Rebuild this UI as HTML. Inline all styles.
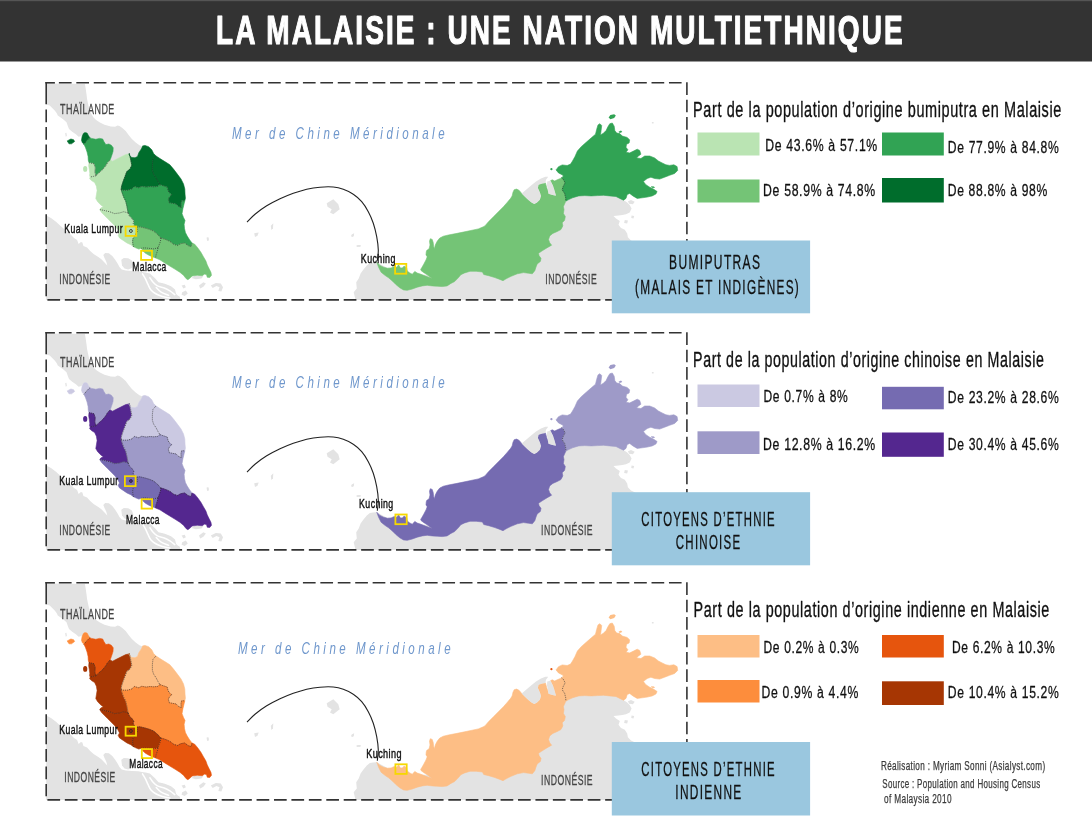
<!DOCTYPE html>
<html lang="fr"><head><meta charset="utf-8"><title>La Malaisie : une nation multiethnique</title>
<style>html,body{margin:0;padding:0;background:#fff}svg{display:block}text{font-family:"Liberation Sans",sans-serif;white-space:pre}</style></head><body>
<svg width="1092" height="838" viewBox="0 0 1092 838">
<rect width="1092" height="838" fill="#fff"/>
<rect x="0" y="0" width="1092" height="61.5" fill="#333"/>
<rect x="0" y="0" width="1092" height="1.2" fill="#555"/>
<text x="216.10" y="44.20" font-size="41.20" fill="#fff" font-weight="bold" font-style="normal" letter-spacing="3.00" textLength="688.60" lengthAdjust="spacingAndGlyphs" stroke="#fff" stroke-width="1.20" stroke-linejoin="round">LA MALAISIE : UNE NATION MULTIETHNIQUE</text>
<defs>
<clipPath id="cf0"><rect x="46.2" y="82.8" width="900.0" height="217.1"/></clipPath>
<clipPath id="cf1"><rect x="46.2" y="332.8" width="900.0" height="217.1"/></clipPath>
<clipPath id="cf2"><rect x="46.2" y="582.8" width="900.0" height="217.1"/></clipPath>
</defs>
<g id="panel1">
<g clip-path="url(#cf0)">
<path d="M46.2,83.5 L84.9,84.0 L85.6,88.0 L86.5,94.2 L87.1,99.2 L88.0,103.5 L89.0,107.9 L90.8,112.9 L93.3,117.2 L95.8,119.7 L99.5,122.2 L104.5,124.7 L110.8,126.6 L115.1,126.8 L117.6,125.6 L119.5,126.0 L122.0,127.8 L125.7,130.9 L128.8,135.3 L131.9,139.0 L135.7,142.5 L139.4,145.3 L142.5,146.5 L142.5,146.5 L141.3,149.0 L138.8,152.7 L137.5,156.5 L135.0,157.7 L131.9,157.5 L129.7,155.9 L128.8,154.0 L128.8,154.0 L125.7,154.6 L120.7,157.1 L115.7,159.6 L112.6,161.2 L110.1,160.0 L110.1,160.0 L111.4,156.5 L113.0,151.5 L113.2,147.8 L111.4,145.3 L108.9,144.0 L105.8,144.6 L103.9,141.5 L102.7,139.0 L99.5,138.4 L95.8,139.3 L91.5,138.4 L89.8,137.8 L89.8,137.8 L88.3,135.3 L87.1,133.1 L84.9,132.6 L83.4,133.4 L83.4,133.4 L81.5,135.9 L78.6,136.8 L75.9,134.3 L72.2,131.8 L69.0,129.1 L67.8,126.0 L66.5,122.2 L63.4,119.4 L60.3,117.2 L57.8,115.6 L56.6,112.9 L54.7,110.4 L52.2,107.9 L49.7,105.4 L46.2,104.4Z" fill="#e3e3e3"/>
<path d="M46.2,215.6 L51.0,218.1 L56.0,221.8 L60.9,226.2 L65.9,230.5 L70.3,234.3 L74.0,238.0 L77.1,240.1 L78.6,243.9 L80.9,242.1 L82.4,242.6 L83.4,246.1 L87.1,247.4 L90.2,251.1 L93.9,254.2 L98.3,257.1 L101.4,259.2 L104.5,262.6 L107.3,265.5 L106.3,261.7 L104.5,257.9 L103.3,255.1 L105.2,253.1 L108.9,253.2 L112.3,256.1 L115.2,259.8 L117.6,263.5 L119.5,267.0 L121.7,269.5 L125.7,270.6 L131.9,271.0 L138.2,271.3 L141.9,272.0 L145.6,272.6 L149.8,273.6 L154.8,277.9 L158.5,282.3 L164.8,283.8 L171.0,286.3 L175.0,289.5 L176.2,294.1 L179.7,297.5 L181.2,302.2 L45.2,302.2Z" fill="#e3e3e3"/>
<path d="M121.3,259.8 L123.8,257.9 L128.2,258.3 L131.9,260.4 L133.2,264.2 L131.9,267.9 L128.2,269.5 L124.5,268.5 L122.0,265.4Z" fill="#e3e3e3"/>
<path d="M154.8,284.8 L158.5,282.9 L164.8,284.2 L171.0,286.7 L174.7,289.8 L173.5,291.6 L168.5,289.8 L162.3,287.9 L157.3,287.3Z" fill="#e3e3e3"/>
<path d="M153.5,289.8 L158.5,289.2 L164.8,291.0 L171.0,293.5 L172.9,296.0 L168.5,296.6 L162.3,294.8 L156.0,292.9Z" fill="#e3e3e3"/>
<path d="M181.6,285.4 L184.7,284.8 L185.9,287.3 L183.4,288.5Z" fill="#e3e3e3"/>
<path d="M182.2,292.3 L185.9,290.4 L187.8,293.5 L184.7,296.0 L181.6,294.8Z" fill="#e3e3e3"/>
<path d="M199.0,285.4 L203.4,282.3 L205.9,283.5 L203.4,286.7 L200.2,288.5Z" fill="#e3e3e3"/>
<path d="M210.8,285.4 L215.8,282.9 L220.8,283.5 L223.0,287.3 L221.4,291.6 L218.3,291.0 L219.6,287.3 L216.4,286.0 L212.7,287.9Z" fill="#e3e3e3"/>
<path d="M191.5,277.9 L194.6,275.8 L199.6,275.5 L203.4,276.3 L201.5,278.6 L195.9,279.2Z" fill="#e3e3e3"/>
<path d="M206.8,237.7 L208.1,237.5 L208.6,240.0 L207.3,240.5Z" fill="#e3e3e3"/>
<path d="M176.0,296.6 L179.1,295.8 L180.3,298.2 L177.2,299.2Z" fill="#e3e3e3"/>
<path d="M65.2,133.1 L66.4,132.8 L66.9,135.9 L65.7,136.8Z" fill="#e3e3e3"/>
<path d="M355.6,300.4 L353.7,292.3 L356.8,288.5 L356.2,282.3 L358.7,278.6 L360.6,273.6 L363.1,269.9 L366.8,265.5 L369.9,263.0 L373.0,262.6 L376.8,262.3 L399.8,274.7 L437.2,274.7 L474.5,262.3 L507.4,245.8 L544.7,220.9 L557.2,208.5 L572.5,187.2 L622.3,187.2 L623.5,199.9 L627.2,202.4 L629.7,204.9 L631.6,208.6 L629.7,212.4 L626.0,214.2 L622.3,214.9 L618.5,215.5 L613.5,216.1 L616.0,218.6 L619.8,221.1 L618.5,224.8 L621.0,227.9 L624.8,229.8 L627.2,233.5 L627.9,237.3 L631.0,240.4 L639.7,244.8 L639.7,300.5Z" fill="#e3e3e3"/>
<path d="M627.9,201.2 L631.0,199.9 L634.7,201.8 L632.9,204.3 L629.1,203.7Z" fill="#e3e3e3"/>
<path d="M631.6,215.5 L634.1,216.1 L633.5,218.6 L631.2,218.0Z" fill="#e3e3e3"/>
<path d="M624.8,219.9 L627.9,220.5 L627.2,223.6 L624.1,223.0Z" fill="#e3e3e3"/>
<path d="M651.9,121.9 L653.6,121.9 L653.6,123.4 L651.9,123.4Z" fill="#e3e3e3"/>
<path d="M326.7,203.3 L333.3,199.2 L338.3,204.2 L339.7,209.2 L333.3,214.2 L330.0,212.5 L331.7,209.2 L327.5,206.7Z" fill="#e3e3e3"/>
<path d="M270.8,225.8 L273.3,223.3 L273.0,228.3 L271.3,230.0Z" fill="#e3e3e3"/>
<path d="M254.2,233.3 L258.7,232.5 L257.5,235.8 L255.0,237.0Z" fill="#e3e3e3"/>
<path d="M206.7,237.5 L208.7,237.5 L208.7,240.8 L207.0,240.8Z" fill="#e3e3e3"/>
<path d="M351.3,235.0 L354.2,233.3 L353.7,236.3 L351.7,237.0Z" fill="#e3e3e3"/>
<path d="M356.7,245.3 L360.3,245.3 L360.3,246.7 L356.7,246.7Z" fill="#e3e3e3"/>
<path d="M351.5,234.9 L353.7,233.4 L353.5,236.1 L351.9,236.9Z" fill="#e3e3e3"/>
<path d="M356.8,245.5 L360.6,245.1 L360.6,246.6 L356.8,246.7Z" fill="#e3e3e3"/>
<path d="M142.5,273.8 C143.0,274.7 144.6,277.3 145.6,279.1 C146.5,280.9 147.1,282.8 148.1,284.7 C149.0,286.5 149.8,288.7 151.2,290.3 C152.5,291.8 154.3,293.0 156.2,294.0 C158.0,295.0 160.1,295.8 162.4,296.5 C164.7,297.2 168.6,297.7 169.9,298.0" fill="none" stroke="#fff" stroke-width="1.5" stroke-linecap="round"/>
<path d="M149.9,277.8 C150.5,278.5 151.8,280.8 153.1,282.2 C154.3,283.5 155.6,285.0 157.4,285.9 C159.2,286.8 161.6,287.0 163.6,287.8 C165.7,288.6 168.0,289.8 169.9,290.9 C171.7,292.0 174.0,294.0 174.8,294.6" fill="none" stroke="#fff" stroke-width="1.5" stroke-linecap="round"/>
<path d="M156.2,287.5 C157.0,288.3 159.1,290.9 161.1,292.1 C163.2,293.4 167.4,294.7 168.6,295.3" fill="none" stroke="#fff" stroke-width="1.5" stroke-linecap="round"/>
<path d="M83.4,133.4 L82.1,136.5 L81.5,140.3 L82.4,142.8 L84.0,144.3 L84.0,144.3 L85.2,142.8 L87.1,140.5 L89.8,137.8 L89.8,137.8 L88.3,135.3 L87.1,133.1 L84.9,132.6 L83.4,133.4Z" fill="#006d2c" stroke="#006d2c" stroke-width="0.6" stroke-linejoin="round"/>
<path d="M89.8,137.8 L87.1,140.5 L85.2,142.8 L84.0,144.3 L84.0,144.3 L85.6,147.8 L87.1,152.1 L88.1,156.5 L88.3,160.2 L89.0,162.7 L89.0,162.7 L93.9,163.7 L95.2,167.7 L94.8,172.0 L95.8,175.8 L95.8,175.8 L98.9,172.9 L102.7,169.6 L105.8,165.8 L107.6,162.7 L110.1,160.0 L110.1,160.0 L111.4,156.5 L113.0,151.5 L113.2,147.8 L111.4,145.3 L108.9,144.0 L105.8,144.6 L103.9,141.5 L102.7,139.0 L99.5,138.4 L95.8,139.3 L91.5,138.4 L89.8,137.8Z" fill="#31a354" stroke="#31a354" stroke-width="0.6" stroke-linejoin="round"/>
<path d="M89.0,162.7 L93.9,163.7 L95.2,167.7 L94.8,172.0 L95.8,175.8 L95.8,175.8 L93.3,176.4 L90.2,177.0 L90.2,177.0 L89.6,175.8 L89.8,173.3 L89.3,169.6 L88.7,165.8 L89.0,162.7Z" fill="#bae4b3" stroke="#bae4b3" stroke-width="0.6" stroke-linejoin="round"/>
<path d="M110.1,160.0 L107.6,162.7 L105.8,165.8 L102.7,169.6 L98.9,172.9 L95.8,175.8 L95.8,175.8 L93.3,176.4 L90.2,177.0 L90.2,177.0 L89.6,178.7 L91.5,180.6 L94.6,182.5 L96.4,186.2 L97.1,190.5 L96.4,194.9 L95.8,198.6 L97.7,201.8 L100.8,204.9 L103.3,206.7 L100.8,208.0 L99.8,209.6 L99.8,209.6 L104.5,210.5 L109.5,211.7 L114.5,213.6 L119.5,213.0 L123.8,211.7 L128.2,213.0 L128.2,213.0 L127.6,209.9 L126.9,206.1 L125.7,201.1 L123.8,197.4 L122.0,192.4 L121.2,189.6 L121.2,189.6 L121.5,186.5 L123.1,181.5 L125.0,176.5 L126.8,171.6 L130.0,169.1 L131.8,165.3 L130.6,159.1 L129.3,153.5 L128.8,154.0 L125.7,154.6 L120.7,157.1 L115.7,159.6 L112.6,161.2 L110.1,160.0Z" fill="#bae4b3" stroke="#bae4b3" stroke-width="0.6" stroke-linejoin="round"/>
<path d="M142.5,146.5 L141.3,149.0 L138.8,152.7 L137.5,156.5 L135.0,157.7 L131.9,157.5 L129.7,155.9 L128.8,154.0 L129.3,153.5 L130.6,159.1 L131.8,165.3 L130.0,169.1 L126.8,171.6 L125.0,176.5 L123.1,181.5 L121.5,186.5 L121.2,189.6 L121.2,189.6 L123.1,190.2 L127.5,190.2 L131.8,189.0 L134.3,186.5 L138.7,187.8 L141.8,186.3 L146.2,187.1 L149.9,186.5 L153.6,186.8 L157.4,186.5 L159.9,184.6 L159.9,184.6 L158.0,181.5 L156.1,177.8 L153.6,174.1 L152.4,170.3 L152.4,164.1 L153.0,159.1 L156.1,156.0 L156.1,156.0 L153.6,153.5 L151.8,149.8 L148.6,146.7 L144.9,145.4 L142.4,146.0Z" fill="#006d2c" stroke="#006d2c" stroke-width="0.6" stroke-linejoin="round"/>
<path d="M156.1,156.0 L153.0,159.1 L152.4,164.1 L152.4,170.3 L153.6,174.1 L156.1,177.8 L158.0,181.5 L159.9,184.6 L159.9,184.6 L163.6,185.9 L167.3,187.1 L167.9,190.2 L169.2,192.7 L171.7,194.6 L169.8,196.5 L168.3,199.0 L169.2,202.7 L172.3,203.3 L176.0,203.9 L178.5,206.4 L181.3,207.7 L181.0,203.9 L181.6,200.8 L184.8,200.8 L184.8,200.8 L185.4,198.3 L185.0,194.0 L184.8,189.0 L183.5,184.0 L181.0,179.0 L177.3,174.1 L173.5,169.1 L169.8,164.7 L164.8,161.6 L159.9,158.5 L156.1,156.0Z" fill="#006d2c" stroke="#006d2c" stroke-width="0.6" stroke-linejoin="round"/>
<path d="M121.2,189.6 L123.1,190.2 L127.5,190.2 L131.8,189.0 L134.3,186.5 L138.7,187.8 L141.8,186.3 L146.2,187.1 L149.9,186.5 L153.6,186.8 L157.4,186.5 L159.9,184.6 L159.9,184.6 L163.6,185.9 L167.3,187.1 L167.9,190.2 L169.2,192.7 L171.7,194.6 L169.8,196.5 L168.3,199.0 L169.2,202.7 L172.3,203.3 L176.0,203.9 L178.5,206.4 L181.3,207.7 L181.0,203.9 L181.6,200.8 L184.8,200.8 L184.8,200.9 L184.1,203.7 L182.9,208.7 L182.0,213.7 L183.5,217.4 L185.0,220.5 L184.1,224.3 L184.5,228.6 L185.4,232.4 L187.2,236.1 L189.7,239.9 L192.0,243.0 L192.0,243.0 L191.0,246.7 L187.9,245.5 L184.8,243.0 L181.0,243.6 L177.3,245.5 L173.5,244.2 L170.4,241.7 L166.7,239.9 L163.0,238.6 L160.8,238.0 L160.8,238.0 L157.4,234.2 L153.6,231.1 L149.3,229.3 L144.9,228.0 L139.9,226.8 L136.8,227.1 L136.8,227.3 L134.7,226.3 L133.2,223.5 L133.8,221.1 L131.9,218.6 L129.4,216.1 L128.2,213.0 L128.2,213.0 L127.6,209.9 L126.9,206.1 L125.7,201.1 L123.8,197.4 L122.0,192.4 L121.2,189.6Z" fill="#31a354" stroke="#31a354" stroke-width="0.6" stroke-linejoin="round"/>
<path d="M128.2,213.0 L123.8,211.7 L119.5,213.0 L114.5,213.6 L109.5,211.7 L104.5,210.5 L99.8,209.6 L99.8,209.6 L101.4,212.3 L104.5,215.5 L107.6,218.6 L110.8,221.7 L114.5,225.4 L117.6,229.2 L119.5,232.9 L118.2,235.4 L119.5,237.9 L123.2,240.4 L126.9,242.9 L130.7,244.7 L133.5,246.7 L133.5,246.7 L132.7,243.3 L132.7,239.2 L135.2,235.0 L137.7,230.8 L136.8,227.3 L136.8,227.3 L134.7,226.3 L133.2,223.5 L133.8,221.1 L131.9,218.6 L129.4,216.1 L128.2,213.0Z" fill="#bae4b3" stroke="#bae4b3" stroke-width="0.6" stroke-linejoin="round"/>
<path d="M136.8,227.3 L137.7,230.8 L135.2,235.0 L132.7,239.2 L132.7,243.3 L133.5,246.7 L133.6,246.7 L135.7,247.8 L138.8,249.1 L141.4,248.3 L141.4,248.3 L144.3,247.9 L148.6,248.3 L153.6,248.8 L158.0,247.9 L158.0,247.9 L159.2,244.8 L160.5,241.1 L160.8,238.0 L160.8,238.0 L157.4,234.2 L153.6,231.1 L149.3,229.3 L144.9,228.0 L139.9,226.8 L136.8,227.1Z" fill="#74c476" stroke="#74c476" stroke-width="0.6" stroke-linejoin="round"/>
<path d="M158.0,247.9 L153.6,248.8 L148.6,248.3 L144.3,247.9 L141.4,248.3 L141.4,248.3 L143.0,251.1 L145.5,253.3 L149.3,255.4 L153.0,257.0 L155.5,257.9 L155.5,257.9 L156.1,254.8 L157.4,251.1 L158.0,247.9Z" fill="#74c476" stroke="#74c476" stroke-width="0.6" stroke-linejoin="round"/>
<path d="M160.8,238.0 L163.0,238.6 L166.7,239.9 L170.4,241.7 L173.5,244.2 L177.3,245.5 L181.0,243.6 L184.8,243.0 L187.9,245.5 L191.0,246.7 L192.0,243.0 L192.0,243.0 L194.7,244.2 L197.8,247.9 L200.9,252.3 L203.4,256.7 L205.9,261.0 L207.2,264.8 L209.0,268.5 L210.9,272.2 L211.5,275.3 L209.7,277.5 L207.2,277.2 L206.6,274.7 L204.7,274.1 L202.2,275.7 L197.2,275.3 L192.2,276.0 L190.4,277.8 L187.9,279.7 L186.0,278.5 L183.5,275.3 L179.8,272.2 L174.8,269.1 L169.8,266.0 L164.8,262.9 L159.9,259.8 L155.5,257.9 L155.5,257.9 L156.1,254.8 L157.4,251.1 L158.0,247.9 L158.0,247.9 L159.2,244.8 L160.5,241.1 L160.8,238.0Z" fill="#74c476" stroke="#74c476" stroke-width="0.6" stroke-linejoin="round"/>
<path d="M67.2,140.9 L70.9,139.0 L73.6,139.7 L74.6,141.5 L71.5,143.8 L69.0,143.8Z" fill="#006d2c" stroke="#006d2c" stroke-width="0.6" stroke-linejoin="round"/>
<path d="M376.8,262.3 L378.0,263.5 L379.9,265.4 L383.6,267.2 L387.4,268.2 L391.1,267.9 L394.2,266.6 L396.7,267.2 L398.6,264.8 L400.4,267.9 L402.3,267.9 L404.2,266.0 L406.7,267.9 L407.3,271.1 L409.8,273.0 L412.3,274.2 L414.8,271.4 L417.2,273.0 L421.0,274.3 L426.0,276.3 L432.2,278.5 L427.2,274.8 L423.5,272.4 L421.0,270.5 L420.7,269.2 L421.6,268.0 L423.7,264.3 L426.0,259.9 L427.2,256.8 L426.0,254.9 L426.2,252.4 L426.6,250.6 L429.1,248.7 L430.0,245.0 L429.5,241.2 L430.3,238.7 L432.2,239.4 L433.2,242.5 L433.7,246.8 L434.4,248.7 L435.3,245.0 L437.2,241.2 L439.7,238.1 L443.4,236.2 L448.4,235.0 L455.9,233.6 L463.3,232.1 L470.8,230.5 L478.3,228.9 L483.3,226.8 L484.9,225.9 L488.7,221.5 L493.7,216.5 L498.6,211.6 L503.6,206.6 L507.4,202.2 L510.5,198.5 L512.1,196.0 L513.0,192.2 L514.2,189.7 L516.7,189.1 L519.2,190.4 L521.7,193.5 L521.7,193.5 L524.2,196.0 L527.3,199.1 L531.1,202.2 L534.2,204.1 L536.7,202.8 L539.8,199.7 L541.0,196.0 L539.8,192.2 L537.9,187.9 L538.5,184.8 L538.5,184.8 L542.3,183.5 L545.4,182.9 L545.4,182.9 L546.6,187.2 L547.9,191.0 L548.5,193.7 L551.6,194.7 L556.0,195.7 L556.0,195.7 L554.5,190.4 L552.9,185.4 L551.0,181.6 L550.4,180.8 L550.4,180.8 L552.2,179.8 L554.7,181.0 L557.2,179.8 L560.3,178.5 L561.6,177.9 L561.6,177.9 L563.7,179.8 L565.1,182.9 L563.2,186.6 L562.2,189.7 L564.7,193.5 L565.7,197.8 L565.9,200.9 L565.9,201.0 L563.4,206.6 L564.0,209.7 L563.4,213.4 L565.3,216.5 L564.6,220.3 L562.2,222.8 L562.8,225.9 L560.9,229.6 L557.2,231.5 L552.8,233.4 L549.7,235.9 L548.5,239.6 L549.7,242.7 L551.6,245.2 L547.2,247.7 L542.2,250.8 L538.5,253.3 L539.1,255.8 L541.0,258.3 L540.4,261.4 L537.2,263.9 L536.0,267.0 L534.8,270.7 L532.3,273.8 L528.5,273.2 L523.5,272.6 L517.3,273.8 L511.1,276.3 L506.1,278.8 L503.0,280.7 L499.9,279.4 L494.9,277.6 L488.7,275.7 L483.7,274.5 L482.5,272.0 L476.2,271.3 L470.0,271.3 L464.6,272.9 L460.8,274.7 L458.3,277.8 L454.6,281.6 L450.9,283.4 L447.1,285.9 L442.2,286.6 L437.2,286.2 L432.2,285.9 L427.2,285.3 L422.2,285.9 L417.2,287.2 L412.3,289.0 L407.3,290.3 L403.5,289.9 L399.8,287.8 L396.1,284.7 L392.3,280.9 L388.6,277.8 L384.9,275.3 L381.1,272.2 L378.6,267.2Z" fill="#74c476" stroke="#74c476" stroke-width="0.6" stroke-linejoin="round"/>
<path d="M556.0,169.9 L558.5,166.7 L562.2,164.9 L567.2,165.5 L570.6,164.1 L572.5,161.0 L574.9,156.7 L577.4,151.1 L581.2,146.7 L586.2,142.3 L591.1,138.0 L595.5,134.2 L596.7,129.3 L598.0,124.9 L599.9,123.7 L601.7,125.5 L601.1,130.5 L600.5,134.9 L603.0,133.6 L606.1,130.5 L607.9,126.8 L609.8,123.7 L612.3,123.0 L614.2,126.2 L614.8,130.5 L616.7,133.0 L619.8,133.6 L622.3,136.1 L627.2,137.4 L629.7,139.9 L629.1,143.0 L626.6,144.2 L626.0,147.3 L627.9,149.8 L626.0,152.3 L629.7,152.9 L633.5,151.1 L637.2,149.2 L639.7,150.4 L640.9,154.2 L638.5,156.0 L636.6,157.9 L640.9,158.5 L644.7,156.0 L649.7,156.0 L654.6,157.9 L658.4,161.0 L662.1,162.9 L665.9,164.8 L669.6,165.4 L673.9,164.8 L677.1,166.6 L677.7,170.4 L674.6,173.5 L669.6,175.3 L664.6,177.2 L659.6,179.1 L654.6,178.5 L650.9,177.2 L647.2,178.5 L643.4,181.6 L645.9,184.7 L649.7,187.2 L653.4,189.0 L657.1,191.5 L655.9,194.0 L652.2,195.9 L647.2,197.1 L642.2,197.8 L637.2,198.4 L632.9,195.9 L629.7,193.4 L627.2,194.6 L626.0,198.4 L623.5,200.2 L619.8,198.4 L616.0,196.5 L609.8,195.9 L603.6,195.3 L597.4,195.6 L591.1,195.9 L584.9,195.6 L578.7,195.9 L572.5,197.8 L568.7,199.6 L566.0,201.0 L565.9,200.9 L565.7,197.8 L564.7,193.5 L562.2,189.7 L563.2,186.6 L565.1,182.9 L563.7,179.8 L561.6,177.9 L563.4,176.0 L562.2,174.8 L558.5,172.9Z" fill="#31a354" stroke="#31a354" stroke-width="0.6" stroke-linejoin="round"/>
<path d="M521.7,193.5 L526.1,189.7 L531.1,185.4 L536.0,181.6 L541.0,178.5 L545.4,176.7 L548.2,176.7 L546.0,179.8 L545.4,182.9 L542.3,183.5 L538.5,184.8 L537.9,187.9 L539.8,192.2 L541.0,196.0 L539.8,199.7 L536.7,202.8 L534.2,204.1 L531.1,202.2 L527.3,199.1 L524.2,196.0Z" fill="#e3e3e3"/>
<path d="M547.2,181.6 L550.4,180.8 L552.9,185.4 L554.5,190.4 L556.0,195.7 L551.6,194.7 L548.5,193.7 L547.9,189.7 L547.0,185.4Z" fill="#e3e3e3"/>
<path d="M608.6,117.4 L610.4,114.9 L614.2,114.3 L615.8,115.6 L614.2,118.1 L610.4,119.3Z" fill="#31a354"/>
<path d="M618.5,131.8 L621.0,130.5 L622.3,132.1 L619.8,133.1Z" fill="#31a354"/>
<path d="M650.9,186.2 L654.0,186.4 L654.9,187.9 L651.9,187.7Z" fill="#31a354"/>
<ellipse cx="551.4" cy="169.2" rx="1.1" ry="1.1" fill="#31a354"/>
<ellipse cx="85.2" cy="168.9" rx="2.1" ry="2.9" fill="#bae4b3"/>
<path d="M89.8,137.8 L87.1,140.5 L85.2,142.8 L84.0,144.3 M89.0,162.7 L93.9,163.7 L95.2,167.7 L94.8,172.0 L95.8,175.8 M110.1,160.0 L107.6,162.7 L105.8,165.8 L102.7,169.6 L98.9,172.9 L95.8,175.8 M95.8,175.8 L93.3,176.4 L90.2,177.0 M129.3,153.5 L130.6,159.1 L131.8,165.3 L130.0,169.1 L126.8,171.6 L125.0,176.5 L123.1,181.5 L121.5,186.5 L121.2,189.6 M121.2,189.6 L123.1,190.2 L127.5,190.2 L131.8,189.0 L134.3,186.5 L138.7,187.8 L141.8,186.3 L146.2,187.1 L149.9,186.5 L153.6,186.8 L157.4,186.5 L159.9,184.6 M156.1,156.0 L153.0,159.1 L152.4,164.1 L152.4,170.3 L153.6,174.1 L156.1,177.8 L158.0,181.5 L159.9,184.6 M159.9,184.6 L163.6,185.9 L167.3,187.1 L167.9,190.2 L169.2,192.7 L171.7,194.6 L169.8,196.5 L168.3,199.0 L169.2,202.7 L172.3,203.3 L176.0,203.9 L178.5,206.4 L181.3,207.7 L181.0,203.9 L181.6,200.8 L184.8,200.8 M121.2,189.6 L122.0,192.4 L123.8,197.4 L125.7,201.1 L126.9,206.1 L127.6,209.9 L128.2,213.0 M128.2,213.0 L123.8,211.7 L119.5,213.0 L114.5,213.6 L109.5,211.7 L104.5,210.5 L99.8,209.6 M128.2,213.0 L129.4,216.1 L131.9,218.6 L133.8,221.1 L133.2,223.5 L134.7,226.3 L136.8,227.3 M136.8,227.3 L137.7,230.8 L135.2,235.0 L132.7,239.2 L132.7,243.3 L133.5,246.7 M136.8,227.1 L139.9,226.8 L144.9,228.0 L149.3,229.3 L153.6,231.1 L157.4,234.2 L160.8,238.0 M160.8,238.0 L163.0,238.6 L166.7,239.9 L170.4,241.7 L173.5,244.2 L177.3,245.5 L181.0,243.6 L184.8,243.0 L187.9,245.5 L191.0,246.7 L192.0,243.0 M160.8,238.0 L160.5,241.1 L159.2,244.8 L158.0,247.9 M158.0,247.9 L157.4,251.1 L156.1,254.8 L155.5,257.9 M158.0,247.9 L153.6,248.8 L148.6,248.3 L144.3,247.9 L141.4,248.3 M561.6,177.9 L563.7,179.8 L565.1,182.9 L563.2,186.6 L562.2,189.7 L564.7,193.5 L565.7,197.8 L565.9,200.9" fill="none" stroke="#222" stroke-opacity="0.85" stroke-width="0.75" stroke-dasharray="1.0 1.0"/>
<circle cx="130.9" cy="231.0" r="1.45" fill="#bae4b3" stroke="#2a2a2a" stroke-width="0.9"/>
</g>
<path d="M247.0,222.0 C248.3,220.7 251.7,216.9 255.0,214.2 C258.3,211.5 262.5,208.4 266.7,205.8 C270.8,203.3 275.6,200.9 280.0,198.8 C284.4,196.8 288.9,194.9 293.3,193.3 C297.8,191.8 302.2,190.4 306.7,189.3 C311.1,188.3 315.6,187.6 320.0,187.2 C324.4,186.8 329.4,186.7 333.3,187.0 C337.2,187.3 340.0,188.0 343.3,189.2 C346.7,190.4 350.3,192.1 353.3,194.2 C356.4,196.2 359.2,198.8 361.7,201.7 C364.2,204.6 366.4,208.1 368.3,211.7 C370.3,215.3 371.9,219.2 373.3,223.3 C374.7,227.5 375.8,232.2 376.7,236.7 C377.5,241.1 378.2,246.0 378.3,250.0 C378.4,254.0 377.5,258.9 377.3,260.7" fill="none" stroke="#222" stroke-width="1.1"/>
<rect x="125.6" y="226.5" width="10.7" height="9.4" fill="none" stroke="#f6d800" stroke-width="1.8"/>
<rect x="141.1" y="250.8" width="10.9" height="9.1" fill="none" stroke="#f6d800" stroke-width="1.8"/>
<rect x="395.1" y="263.9" width="11.2" height="9.8" fill="none" stroke="#f6d800" stroke-width="1.8"/>
<path d="M58.9,82.8 H681.6" stroke="#333" stroke-width="1.6" stroke-dasharray="12.7 4.73" fill="none"/>
<path d="M45.4,82.8 H54.9" stroke="#333" stroke-width="1.6" fill="none"/>
<path d="M47.4,299.9 H687.0" stroke="#333" stroke-width="1.6" stroke-dasharray="12.7 4.73" fill="none"/>
<path d="M46.2,109.6 V296.3" stroke="#333" stroke-width="1.6" stroke-dasharray="12.7 4.73" fill="none"/>
<path d="M46.2,82.0 V104.2" stroke="#333" stroke-width="1.6" fill="none"/>
<path d="M686.9,82.2 V299.9" stroke="#333" stroke-width="1.6" stroke-dasharray="12.7 4.73" fill="none"/>
</g>
<g id="panel2">
<g clip-path="url(#cf1)">
<path d="M46.2,333.5 L84.9,334.0 L85.6,338.0 L86.5,344.2 L87.1,349.2 L88.0,353.5 L89.0,357.9 L90.8,362.9 L93.3,367.2 L95.8,369.7 L99.5,372.2 L104.5,374.7 L110.8,376.6 L115.1,376.8 L117.6,375.6 L119.5,376.0 L122.0,377.8 L125.7,380.9 L128.8,385.3 L131.9,389.0 L135.7,392.5 L139.4,395.3 L142.5,396.5 L142.5,396.5 L141.3,399.0 L138.8,402.7 L137.5,406.5 L135.0,407.7 L131.9,407.5 L129.7,405.9 L128.8,404.0 L128.8,404.0 L125.7,404.6 L120.7,407.1 L115.7,409.6 L112.6,411.2 L110.1,410.0 L110.1,410.0 L111.4,406.5 L113.0,401.5 L113.2,397.8 L111.4,395.3 L108.9,394.0 L105.8,394.6 L103.9,391.5 L102.7,389.0 L99.5,388.4 L95.8,389.3 L91.5,388.4 L89.8,387.8 L89.8,387.8 L88.3,385.3 L87.1,383.1 L84.9,382.6 L83.4,383.4 L83.4,383.4 L81.5,385.9 L78.6,386.8 L75.9,384.3 L72.2,381.8 L69.0,379.1 L67.8,376.0 L66.5,372.2 L63.4,369.4 L60.3,367.2 L57.8,365.6 L56.6,362.9 L54.7,360.4 L52.2,357.9 L49.7,355.4 L46.2,354.4Z" fill="#e3e3e3"/>
<path d="M46.2,465.6 L51.0,468.1 L56.0,471.8 L60.9,476.2 L65.9,480.5 L70.3,484.3 L74.0,488.0 L77.1,490.1 L78.6,493.9 L80.9,492.1 L82.4,492.6 L83.4,496.1 L87.1,497.4 L90.2,501.1 L93.9,504.2 L98.3,507.1 L101.4,509.2 L104.5,512.6 L107.3,515.5 L106.3,511.7 L104.5,507.9 L103.3,505.1 L105.2,503.1 L108.9,503.2 L112.3,506.1 L115.2,509.8 L117.6,513.5 L119.5,517.0 L121.7,519.5 L125.7,520.6 L131.9,521.0 L138.2,521.3 L141.9,522.0 L145.6,522.6 L149.8,523.6 L154.8,527.9 L158.5,532.3 L164.8,533.8 L171.0,536.3 L175.0,539.5 L176.2,544.1 L179.7,547.5 L181.2,552.2 L45.2,552.2Z" fill="#e3e3e3"/>
<path d="M121.3,509.8 L123.8,507.9 L128.2,508.3 L131.9,510.4 L133.2,514.2 L131.9,517.9 L128.2,519.5 L124.5,518.5 L122.0,515.4Z" fill="#e3e3e3"/>
<path d="M154.8,534.8 L158.5,532.9 L164.8,534.2 L171.0,536.7 L174.7,539.8 L173.5,541.6 L168.5,539.8 L162.3,537.9 L157.3,537.3Z" fill="#e3e3e3"/>
<path d="M153.5,539.8 L158.5,539.2 L164.8,541.0 L171.0,543.5 L172.9,546.0 L168.5,546.6 L162.3,544.8 L156.0,542.9Z" fill="#e3e3e3"/>
<path d="M181.6,535.4 L184.7,534.8 L185.9,537.3 L183.4,538.5Z" fill="#e3e3e3"/>
<path d="M182.2,542.3 L185.9,540.4 L187.8,543.5 L184.7,546.0 L181.6,544.8Z" fill="#e3e3e3"/>
<path d="M199.0,535.4 L203.4,532.3 L205.9,533.5 L203.4,536.7 L200.2,538.5Z" fill="#e3e3e3"/>
<path d="M210.8,535.4 L215.8,532.9 L220.8,533.5 L223.0,537.3 L221.4,541.6 L218.3,541.0 L219.6,537.3 L216.4,536.0 L212.7,537.9Z" fill="#e3e3e3"/>
<path d="M191.5,527.9 L194.6,525.8 L199.6,525.5 L203.4,526.3 L201.5,528.6 L195.9,529.2Z" fill="#e3e3e3"/>
<path d="M206.8,487.7 L208.1,487.5 L208.6,490.0 L207.3,490.5Z" fill="#e3e3e3"/>
<path d="M176.0,546.6 L179.1,545.8 L180.3,548.2 L177.2,549.2Z" fill="#e3e3e3"/>
<path d="M65.2,383.1 L66.4,382.8 L66.9,385.9 L65.7,386.8Z" fill="#e3e3e3"/>
<path d="M355.6,550.4 L353.7,542.3 L356.8,538.5 L356.2,532.3 L358.7,528.6 L360.6,523.6 L363.1,519.9 L366.8,515.5 L369.9,513.0 L373.0,512.6 L376.8,512.3 L399.8,524.7 L437.2,524.7 L474.5,512.3 L507.4,495.8 L544.7,470.9 L557.2,458.5 L572.5,437.2 L622.3,437.2 L623.5,449.9 L627.2,452.4 L629.7,454.9 L631.6,458.6 L629.7,462.4 L626.0,464.2 L622.3,464.9 L618.5,465.5 L613.5,466.1 L616.0,468.6 L619.8,471.1 L618.5,474.8 L621.0,477.9 L624.8,479.8 L627.2,483.5 L627.9,487.3 L631.0,490.4 L639.7,494.8 L639.7,550.5Z" fill="#e3e3e3"/>
<path d="M627.9,451.2 L631.0,449.9 L634.7,451.8 L632.9,454.3 L629.1,453.7Z" fill="#e3e3e3"/>
<path d="M631.6,465.5 L634.1,466.1 L633.5,468.6 L631.2,468.0Z" fill="#e3e3e3"/>
<path d="M624.8,469.9 L627.9,470.5 L627.2,473.6 L624.1,473.0Z" fill="#e3e3e3"/>
<path d="M651.9,371.9 L653.6,371.9 L653.6,373.4 L651.9,373.4Z" fill="#e3e3e3"/>
<path d="M326.7,453.3 L333.3,449.2 L338.3,454.2 L339.7,459.2 L333.3,464.2 L330.0,462.5 L331.7,459.2 L327.5,456.7Z" fill="#e3e3e3"/>
<path d="M270.8,475.8 L273.3,473.3 L273.0,478.3 L271.3,480.0Z" fill="#e3e3e3"/>
<path d="M254.2,483.3 L258.7,482.5 L257.5,485.8 L255.0,487.0Z" fill="#e3e3e3"/>
<path d="M206.7,487.5 L208.7,487.5 L208.7,490.8 L207.0,490.8Z" fill="#e3e3e3"/>
<path d="M351.3,485.0 L354.2,483.3 L353.7,486.3 L351.7,487.0Z" fill="#e3e3e3"/>
<path d="M356.7,495.3 L360.3,495.3 L360.3,496.7 L356.7,496.7Z" fill="#e3e3e3"/>
<path d="M351.5,484.9 L353.7,483.4 L353.5,486.1 L351.9,486.9Z" fill="#e3e3e3"/>
<path d="M356.8,495.5 L360.6,495.1 L360.6,496.6 L356.8,496.7Z" fill="#e3e3e3"/>
<path d="M142.5,523.8 C143.0,524.7 144.6,527.3 145.6,529.1 C146.5,530.9 147.1,532.8 148.1,534.7 C149.0,536.5 149.8,538.7 151.2,540.3 C152.5,541.8 154.3,543.0 156.2,544.0 C158.0,545.0 160.1,545.8 162.4,546.5 C164.7,547.2 168.6,547.7 169.9,548.0" fill="none" stroke="#fff" stroke-width="1.5" stroke-linecap="round"/>
<path d="M149.9,527.8 C150.5,528.5 151.8,530.8 153.1,532.2 C154.3,533.5 155.6,535.0 157.4,535.9 C159.2,536.8 161.6,537.0 163.6,537.8 C165.7,538.6 168.0,539.8 169.9,540.9 C171.7,542.0 174.0,544.0 174.8,544.6" fill="none" stroke="#fff" stroke-width="1.5" stroke-linecap="round"/>
<path d="M156.2,537.5 C157.0,538.3 159.1,540.9 161.1,542.1 C163.2,543.4 167.4,544.7 168.6,545.3" fill="none" stroke="#fff" stroke-width="1.5" stroke-linecap="round"/>
<path d="M83.4,383.4 L82.1,386.5 L81.5,390.3 L82.4,392.8 L84.0,394.3 L84.0,394.3 L85.2,392.8 L87.1,390.5 L89.8,387.8 L89.8,387.8 L88.3,385.3 L87.1,383.1 L84.9,382.6 L83.4,383.4Z" fill="#cbc9e2" stroke="#cbc9e2" stroke-width="0.6" stroke-linejoin="round"/>
<path d="M89.8,387.8 L87.1,390.5 L85.2,392.8 L84.0,394.3 L84.0,394.3 L85.6,397.8 L87.1,402.1 L88.1,406.5 L88.3,410.2 L89.0,412.7 L89.0,412.7 L93.9,413.7 L95.2,417.7 L94.8,422.0 L95.8,425.8 L95.8,425.8 L98.9,422.9 L102.7,419.6 L105.8,415.8 L107.6,412.7 L110.1,410.0 L110.1,410.0 L111.4,406.5 L113.0,401.5 L113.2,397.8 L111.4,395.3 L108.9,394.0 L105.8,394.6 L103.9,391.5 L102.7,389.0 L99.5,388.4 L95.8,389.3 L91.5,388.4 L89.8,387.8Z" fill="#9e9ac8" stroke="#9e9ac8" stroke-width="0.6" stroke-linejoin="round"/>
<path d="M89.0,412.7 L93.9,413.7 L95.2,417.7 L94.8,422.0 L95.8,425.8 L95.8,425.8 L93.3,426.4 L90.2,427.0 L90.2,427.0 L89.6,425.8 L89.8,423.3 L89.3,419.6 L88.7,415.8 L89.0,412.7Z" fill="#54278f" stroke="#54278f" stroke-width="0.6" stroke-linejoin="round"/>
<path d="M110.1,410.0 L107.6,412.7 L105.8,415.8 L102.7,419.6 L98.9,422.9 L95.8,425.8 L95.8,425.8 L93.3,426.4 L90.2,427.0 L90.2,427.0 L89.6,428.7 L91.5,430.6 L94.6,432.5 L96.4,436.2 L97.1,440.5 L96.4,444.9 L95.8,448.6 L97.7,451.8 L100.8,454.9 L103.3,456.7 L100.8,458.0 L99.8,459.6 L99.8,459.6 L104.5,460.5 L109.5,461.7 L114.5,463.6 L119.5,463.0 L123.8,461.7 L128.2,463.0 L128.2,463.0 L127.6,459.9 L126.9,456.1 L125.7,451.1 L123.8,447.4 L122.0,442.4 L121.2,439.6 L121.2,439.6 L121.5,436.5 L123.1,431.5 L125.0,426.5 L126.8,421.6 L130.0,419.1 L131.8,415.3 L130.6,409.1 L129.3,403.5 L128.8,404.0 L125.7,404.6 L120.7,407.1 L115.7,409.6 L112.6,411.2 L110.1,410.0Z" fill="#54278f" stroke="#54278f" stroke-width="0.6" stroke-linejoin="round"/>
<path d="M142.5,396.5 L141.3,399.0 L138.8,402.7 L137.5,406.5 L135.0,407.7 L131.9,407.5 L129.7,405.9 L128.8,404.0 L129.3,403.5 L130.6,409.1 L131.8,415.3 L130.0,419.1 L126.8,421.6 L125.0,426.5 L123.1,431.5 L121.5,436.5 L121.2,439.6 L121.2,439.6 L123.1,440.2 L127.5,440.2 L131.8,439.0 L134.3,436.5 L138.7,437.8 L141.8,436.3 L146.2,437.1 L149.9,436.5 L153.6,436.8 L157.4,436.5 L159.9,434.6 L159.9,434.6 L158.0,431.5 L156.1,427.8 L153.6,424.1 L152.4,420.3 L152.4,414.1 L153.0,409.1 L156.1,406.0 L156.1,406.0 L153.6,403.5 L151.8,399.8 L148.6,396.7 L144.9,395.4 L142.4,396.0Z" fill="#cbc9e2" stroke="#cbc9e2" stroke-width="0.6" stroke-linejoin="round"/>
<path d="M156.1,406.0 L153.0,409.1 L152.4,414.1 L152.4,420.3 L153.6,424.1 L156.1,427.8 L158.0,431.5 L159.9,434.6 L159.9,434.6 L163.6,435.9 L167.3,437.1 L167.9,440.2 L169.2,442.7 L171.7,444.6 L169.8,446.5 L168.3,449.0 L169.2,452.7 L172.3,453.3 L176.0,453.9 L178.5,456.4 L181.3,457.7 L181.0,453.9 L181.6,450.8 L184.8,450.8 L184.8,450.8 L185.4,448.3 L185.0,444.0 L184.8,439.0 L183.5,434.0 L181.0,429.0 L177.3,424.1 L173.5,419.1 L169.8,414.7 L164.8,411.6 L159.9,408.5 L156.1,406.0Z" fill="#cbc9e2" stroke="#cbc9e2" stroke-width="0.6" stroke-linejoin="round"/>
<path d="M121.2,439.6 L123.1,440.2 L127.5,440.2 L131.8,439.0 L134.3,436.5 L138.7,437.8 L141.8,436.3 L146.2,437.1 L149.9,436.5 L153.6,436.8 L157.4,436.5 L159.9,434.6 L159.9,434.6 L163.6,435.9 L167.3,437.1 L167.9,440.2 L169.2,442.7 L171.7,444.6 L169.8,446.5 L168.3,449.0 L169.2,452.7 L172.3,453.3 L176.0,453.9 L178.5,456.4 L181.3,457.7 L181.0,453.9 L181.6,450.8 L184.8,450.8 L184.8,450.9 L184.1,453.7 L182.9,458.7 L182.0,463.7 L183.5,467.4 L185.0,470.5 L184.1,474.3 L184.5,478.6 L185.4,482.4 L187.2,486.1 L189.7,489.9 L192.0,493.0 L192.0,493.0 L191.0,496.7 L187.9,495.5 L184.8,493.0 L181.0,493.6 L177.3,495.5 L173.5,494.2 L170.4,491.7 L166.7,489.9 L163.0,488.6 L160.8,488.0 L160.8,488.0 L157.4,484.2 L153.6,481.1 L149.3,479.3 L144.9,478.0 L139.9,476.8 L136.8,477.1 L136.8,477.3 L134.7,476.3 L133.2,473.5 L133.8,471.1 L131.9,468.6 L129.4,466.1 L128.2,463.0 L128.2,463.0 L127.6,459.9 L126.9,456.1 L125.7,451.1 L123.8,447.4 L122.0,442.4 L121.2,439.6Z" fill="#9e9ac8" stroke="#9e9ac8" stroke-width="0.6" stroke-linejoin="round"/>
<path d="M128.2,463.0 L123.8,461.7 L119.5,463.0 L114.5,463.6 L109.5,461.7 L104.5,460.5 L99.8,459.6 L99.8,459.6 L101.4,462.3 L104.5,465.5 L107.6,468.6 L110.8,471.7 L114.5,475.4 L117.6,479.2 L119.5,482.9 L118.2,485.4 L119.5,487.9 L123.2,490.4 L126.9,492.9 L130.7,494.7 L133.5,496.7 L133.5,496.7 L132.7,493.3 L132.7,489.2 L135.2,485.0 L137.7,480.8 L136.8,477.3 L136.8,477.3 L134.7,476.3 L133.2,473.5 L133.8,471.1 L131.9,468.6 L129.4,466.1 L128.2,463.0Z" fill="#756bb1" stroke="#756bb1" stroke-width="0.6" stroke-linejoin="round"/>
<path d="M136.8,477.3 L137.7,480.8 L135.2,485.0 L132.7,489.2 L132.7,493.3 L133.5,496.7 L133.6,496.7 L135.7,497.8 L138.8,499.1 L141.4,498.3 L141.4,498.3 L144.3,497.9 L148.6,498.3 L153.6,498.8 L158.0,497.9 L158.0,497.9 L159.2,494.8 L160.5,491.1 L160.8,488.0 L160.8,488.0 L157.4,484.2 L153.6,481.1 L149.3,479.3 L144.9,478.0 L139.9,476.8 L136.8,477.1Z" fill="#756bb1" stroke="#756bb1" stroke-width="0.6" stroke-linejoin="round"/>
<path d="M158.0,497.9 L153.6,498.8 L148.6,498.3 L144.3,497.9 L141.4,498.3 L141.4,498.3 L143.0,501.1 L145.5,503.3 L149.3,505.4 L153.0,507.0 L155.5,507.9 L155.5,507.9 L156.1,504.8 L157.4,501.1 L158.0,497.9Z" fill="#756bb1" stroke="#756bb1" stroke-width="0.6" stroke-linejoin="round"/>
<path d="M160.8,488.0 L163.0,488.6 L166.7,489.9 L170.4,491.7 L173.5,494.2 L177.3,495.5 L181.0,493.6 L184.8,493.0 L187.9,495.5 L191.0,496.7 L192.0,493.0 L192.0,493.0 L194.7,494.2 L197.8,497.9 L200.9,502.3 L203.4,506.7 L205.9,511.0 L207.2,514.8 L209.0,518.5 L210.9,522.2 L211.5,525.3 L209.7,527.5 L207.2,527.2 L206.6,524.7 L204.7,524.1 L202.2,525.7 L197.2,525.3 L192.2,526.0 L190.4,527.8 L187.9,529.7 L186.0,528.5 L183.5,525.3 L179.8,522.2 L174.8,519.1 L169.8,516.0 L164.8,512.9 L159.9,509.8 L155.5,507.9 L155.5,507.9 L156.1,504.8 L157.4,501.1 L158.0,497.9 L158.0,497.9 L159.2,494.8 L160.5,491.1 L160.8,488.0Z" fill="#54278f" stroke="#54278f" stroke-width="0.6" stroke-linejoin="round"/>
<path d="M67.2,390.9 L70.9,389.0 L73.6,389.7 L74.6,391.5 L71.5,393.8 L69.0,393.8Z" fill="#cbc9e2" stroke="#cbc9e2" stroke-width="0.6" stroke-linejoin="round"/>
<path d="M376.8,512.3 L378.0,513.5 L379.9,515.4 L383.6,517.2 L387.4,518.2 L391.1,517.9 L394.2,516.6 L396.7,517.2 L398.6,514.8 L400.4,517.9 L402.3,517.9 L404.2,516.0 L406.7,517.9 L407.3,521.1 L409.8,523.0 L412.3,524.2 L414.8,521.4 L417.2,523.0 L421.0,524.3 L426.0,526.3 L432.2,528.5 L427.2,524.8 L423.5,522.4 L421.0,520.5 L420.7,519.2 L421.6,518.0 L423.7,514.3 L426.0,509.9 L427.2,506.8 L426.0,504.9 L426.2,502.4 L426.6,500.6 L429.1,498.7 L430.0,495.0 L429.5,491.2 L430.3,488.7 L432.2,489.4 L433.2,492.5 L433.7,496.8 L434.4,498.7 L435.3,495.0 L437.2,491.2 L439.7,488.1 L443.4,486.2 L448.4,485.0 L455.9,483.6 L463.3,482.1 L470.8,480.5 L478.3,478.9 L483.3,476.8 L484.9,475.9 L488.7,471.5 L493.7,466.5 L498.6,461.6 L503.6,456.6 L507.4,452.2 L510.5,448.5 L512.1,446.0 L513.0,442.2 L514.2,439.7 L516.7,439.1 L519.2,440.4 L521.7,443.5 L521.7,443.5 L524.2,446.0 L527.3,449.1 L531.1,452.2 L534.2,454.1 L536.7,452.8 L539.8,449.7 L541.0,446.0 L539.8,442.2 L537.9,437.9 L538.5,434.8 L538.5,434.8 L542.3,433.5 L545.4,432.9 L545.4,432.9 L546.6,437.2 L547.9,441.0 L548.5,443.7 L551.6,444.7 L556.0,445.7 L556.0,445.7 L554.5,440.4 L552.9,435.4 L551.0,431.6 L550.4,430.8 L550.4,430.8 L552.2,429.8 L554.7,431.0 L557.2,429.8 L560.3,428.5 L561.6,427.9 L561.6,427.9 L563.7,429.8 L565.1,432.9 L563.2,436.6 L562.2,439.7 L564.7,443.5 L565.7,447.8 L565.9,450.9 L565.9,451.0 L563.4,456.6 L564.0,459.7 L563.4,463.4 L565.3,466.5 L564.6,470.3 L562.2,472.8 L562.8,475.9 L560.9,479.6 L557.2,481.5 L552.8,483.4 L549.7,485.9 L548.5,489.6 L549.7,492.7 L551.6,495.2 L547.2,497.7 L542.2,500.8 L538.5,503.3 L539.1,505.8 L541.0,508.3 L540.4,511.4 L537.2,513.9 L536.0,517.0 L534.8,520.7 L532.3,523.8 L528.5,523.2 L523.5,522.6 L517.3,523.8 L511.1,526.3 L506.1,528.8 L503.0,530.7 L499.9,529.4 L494.9,527.6 L488.7,525.7 L483.7,524.5 L482.5,522.0 L476.2,521.3 L470.0,521.3 L464.6,522.9 L460.8,524.7 L458.3,527.8 L454.6,531.6 L450.9,533.4 L447.1,535.9 L442.2,536.6 L437.2,536.2 L432.2,535.9 L427.2,535.3 L422.2,535.9 L417.2,537.2 L412.3,539.0 L407.3,540.3 L403.5,539.9 L399.8,537.8 L396.1,534.7 L392.3,530.9 L388.6,527.8 L384.9,525.3 L381.1,522.2 L378.6,517.2Z" fill="#756bb1" stroke="#756bb1" stroke-width="0.6" stroke-linejoin="round"/>
<path d="M556.0,419.9 L558.5,416.7 L562.2,414.9 L567.2,415.5 L570.6,414.1 L572.5,411.0 L574.9,406.7 L577.4,401.1 L581.2,396.7 L586.2,392.3 L591.1,388.0 L595.5,384.2 L596.7,379.3 L598.0,374.9 L599.9,373.7 L601.7,375.5 L601.1,380.5 L600.5,384.9 L603.0,383.6 L606.1,380.5 L607.9,376.8 L609.8,373.7 L612.3,373.0 L614.2,376.2 L614.8,380.5 L616.7,383.0 L619.8,383.6 L622.3,386.1 L627.2,387.4 L629.7,389.9 L629.1,393.0 L626.6,394.2 L626.0,397.3 L627.9,399.8 L626.0,402.3 L629.7,402.9 L633.5,401.1 L637.2,399.2 L639.7,400.4 L640.9,404.2 L638.5,406.0 L636.6,407.9 L640.9,408.5 L644.7,406.0 L649.7,406.0 L654.6,407.9 L658.4,411.0 L662.1,412.9 L665.9,414.8 L669.6,415.4 L673.9,414.8 L677.1,416.6 L677.7,420.4 L674.6,423.5 L669.6,425.3 L664.6,427.2 L659.6,429.1 L654.6,428.5 L650.9,427.2 L647.2,428.5 L643.4,431.6 L645.9,434.7 L649.7,437.2 L653.4,439.0 L657.1,441.5 L655.9,444.0 L652.2,445.9 L647.2,447.1 L642.2,447.8 L637.2,448.4 L632.9,445.9 L629.7,443.4 L627.2,444.6 L626.0,448.4 L623.5,450.2 L619.8,448.4 L616.0,446.5 L609.8,445.9 L603.6,445.3 L597.4,445.6 L591.1,445.9 L584.9,445.6 L578.7,445.9 L572.5,447.8 L568.7,449.6 L566.0,451.0 L565.9,450.9 L565.7,447.8 L564.7,443.5 L562.2,439.7 L563.2,436.6 L565.1,432.9 L563.7,429.8 L561.6,427.9 L563.4,426.0 L562.2,424.8 L558.5,422.9Z" fill="#9e9ac8" stroke="#9e9ac8" stroke-width="0.6" stroke-linejoin="round"/>
<path d="M521.7,443.5 L526.1,439.7 L531.1,435.4 L536.0,431.6 L541.0,428.5 L545.4,426.7 L548.2,426.7 L546.0,429.8 L545.4,432.9 L542.3,433.5 L538.5,434.8 L537.9,437.9 L539.8,442.2 L541.0,446.0 L539.8,449.7 L536.7,452.8 L534.2,454.1 L531.1,452.2 L527.3,449.1 L524.2,446.0Z" fill="#e3e3e3"/>
<path d="M547.2,431.6 L550.4,430.8 L552.9,435.4 L554.5,440.4 L556.0,445.7 L551.6,444.7 L548.5,443.7 L547.9,439.7 L547.0,435.4Z" fill="#e3e3e3"/>
<path d="M608.6,367.4 L610.4,364.9 L614.2,364.3 L615.8,365.6 L614.2,368.1 L610.4,369.3Z" fill="#9e9ac8"/>
<path d="M618.5,381.8 L621.0,380.5 L622.3,382.1 L619.8,383.1Z" fill="#9e9ac8"/>
<path d="M650.9,436.2 L654.0,436.4 L654.9,437.9 L651.9,437.7Z" fill="#9e9ac8"/>
<ellipse cx="551.4" cy="419.2" rx="1.1" ry="1.1" fill="#9e9ac8"/>
<ellipse cx="85.2" cy="418.9" rx="2.1" ry="2.9" fill="#54278f"/>
<path d="M89.8,387.8 L87.1,390.5 L85.2,392.8 L84.0,394.3 M89.0,412.7 L93.9,413.7 L95.2,417.7 L94.8,422.0 L95.8,425.8 M110.1,410.0 L107.6,412.7 L105.8,415.8 L102.7,419.6 L98.9,422.9 L95.8,425.8 M95.8,425.8 L93.3,426.4 L90.2,427.0 M129.3,403.5 L130.6,409.1 L131.8,415.3 L130.0,419.1 L126.8,421.6 L125.0,426.5 L123.1,431.5 L121.5,436.5 L121.2,439.6 M121.2,439.6 L123.1,440.2 L127.5,440.2 L131.8,439.0 L134.3,436.5 L138.7,437.8 L141.8,436.3 L146.2,437.1 L149.9,436.5 L153.6,436.8 L157.4,436.5 L159.9,434.6 M156.1,406.0 L153.0,409.1 L152.4,414.1 L152.4,420.3 L153.6,424.1 L156.1,427.8 L158.0,431.5 L159.9,434.6 M159.9,434.6 L163.6,435.9 L167.3,437.1 L167.9,440.2 L169.2,442.7 L171.7,444.6 L169.8,446.5 L168.3,449.0 L169.2,452.7 L172.3,453.3 L176.0,453.9 L178.5,456.4 L181.3,457.7 L181.0,453.9 L181.6,450.8 L184.8,450.8 M121.2,439.6 L122.0,442.4 L123.8,447.4 L125.7,451.1 L126.9,456.1 L127.6,459.9 L128.2,463.0 M128.2,463.0 L123.8,461.7 L119.5,463.0 L114.5,463.6 L109.5,461.7 L104.5,460.5 L99.8,459.6 M128.2,463.0 L129.4,466.1 L131.9,468.6 L133.8,471.1 L133.2,473.5 L134.7,476.3 L136.8,477.3 M136.8,477.3 L137.7,480.8 L135.2,485.0 L132.7,489.2 L132.7,493.3 L133.5,496.7 M136.8,477.1 L139.9,476.8 L144.9,478.0 L149.3,479.3 L153.6,481.1 L157.4,484.2 L160.8,488.0 M160.8,488.0 L163.0,488.6 L166.7,489.9 L170.4,491.7 L173.5,494.2 L177.3,495.5 L181.0,493.6 L184.8,493.0 L187.9,495.5 L191.0,496.7 L192.0,493.0 M160.8,488.0 L160.5,491.1 L159.2,494.8 L158.0,497.9 M158.0,497.9 L157.4,501.1 L156.1,504.8 L155.5,507.9 M158.0,497.9 L153.6,498.8 L148.6,498.3 L144.3,497.9 L141.4,498.3 M561.6,427.9 L563.7,429.8 L565.1,432.9 L563.2,436.6 L562.2,439.7 L564.7,443.5 L565.7,447.8 L565.9,450.9" fill="none" stroke="#222" stroke-opacity="0.85" stroke-width="0.75" stroke-dasharray="1.0 1.0"/>
<circle cx="130.9" cy="481.0" r="1.45" fill="#54278f" stroke="#2a2a2a" stroke-width="0.9"/>
</g>
<path d="M247.0,472.0 C248.3,470.7 251.7,466.9 255.0,464.2 C258.3,461.5 262.5,458.4 266.7,455.8 C270.8,453.3 275.6,450.9 280.0,448.8 C284.4,446.8 288.9,444.9 293.3,443.3 C297.8,441.8 302.2,440.4 306.7,439.3 C311.1,438.3 315.6,437.6 320.0,437.2 C324.4,436.8 329.4,436.7 333.3,437.0 C337.2,437.3 340.0,438.0 343.3,439.2 C346.7,440.4 350.3,442.1 353.3,444.2 C356.4,446.2 359.2,448.7 361.7,451.7 C364.2,454.6 366.4,458.1 368.3,461.7 C370.3,465.3 371.9,469.2 373.3,473.3 C374.7,477.5 375.8,482.2 376.7,486.7 C377.5,491.1 378.2,496.0 378.3,500.0 C378.4,504.0 377.5,508.9 377.3,510.7" fill="none" stroke="#222" stroke-width="1.1"/>
<rect x="124.9" y="476.2" width="10.7" height="9.9" fill="none" stroke="#f6d800" stroke-width="1.8"/>
<rect x="141.6" y="499.2" width="10.5" height="9.4" fill="none" stroke="#f6d800" stroke-width="1.8"/>
<rect x="395.4" y="514.5" width="11.3" height="9.7" fill="none" stroke="#f6d800" stroke-width="1.8"/>
<path d="M58.9,332.8 H681.6" stroke="#333" stroke-width="1.6" stroke-dasharray="12.7 4.73" fill="none"/>
<path d="M45.4,332.8 H54.9" stroke="#333" stroke-width="1.6" fill="none"/>
<path d="M47.4,549.9 H687.0" stroke="#333" stroke-width="1.6" stroke-dasharray="12.7 4.73" fill="none"/>
<path d="M46.2,359.6 V546.3" stroke="#333" stroke-width="1.6" stroke-dasharray="12.7 4.73" fill="none"/>
<path d="M46.2,332.0 V354.2" stroke="#333" stroke-width="1.6" fill="none"/>
<path d="M686.9,332.2 V549.9" stroke="#333" stroke-width="1.6" stroke-dasharray="12.7 4.73" fill="none"/>
</g>
<g id="panel3">
<g clip-path="url(#cf2)">
<path d="M46.2,583.5 L84.9,584.0 L85.6,588.0 L86.5,594.2 L87.1,599.2 L88.0,603.5 L89.0,607.9 L90.8,612.9 L93.3,617.2 L95.8,619.7 L99.5,622.2 L104.5,624.7 L110.8,626.6 L115.1,626.8 L117.6,625.6 L119.5,626.0 L122.0,627.8 L125.7,630.9 L128.8,635.3 L131.9,639.0 L135.7,642.5 L139.4,645.3 L142.5,646.5 L142.5,646.5 L141.3,649.0 L138.8,652.7 L137.5,656.5 L135.0,657.7 L131.9,657.5 L129.7,655.9 L128.8,654.0 L128.8,654.0 L125.7,654.6 L120.7,657.1 L115.7,659.6 L112.6,661.2 L110.1,660.0 L110.1,660.0 L111.4,656.5 L113.0,651.5 L113.2,647.8 L111.4,645.3 L108.9,644.0 L105.8,644.6 L103.9,641.5 L102.7,639.0 L99.5,638.4 L95.8,639.3 L91.5,638.4 L89.8,637.8 L89.8,637.8 L88.3,635.3 L87.1,633.1 L84.9,632.6 L83.4,633.4 L83.4,633.4 L81.5,635.9 L78.6,636.8 L75.9,634.3 L72.2,631.8 L69.0,629.1 L67.8,626.0 L66.5,622.2 L63.4,619.4 L60.3,617.2 L57.8,615.6 L56.6,612.9 L54.7,610.4 L52.2,607.9 L49.7,605.4 L46.2,604.4Z" fill="#e3e3e3"/>
<path d="M46.2,715.6 L51.0,718.1 L56.0,721.8 L60.9,726.2 L65.9,730.5 L70.3,734.3 L74.0,738.0 L77.1,740.1 L78.6,743.9 L80.9,742.1 L82.4,742.6 L83.4,746.1 L87.1,747.4 L90.2,751.1 L93.9,754.2 L98.3,757.1 L101.4,759.2 L104.5,762.6 L107.3,765.5 L106.3,761.7 L104.5,757.9 L103.3,755.1 L105.2,753.1 L108.9,753.2 L112.3,756.1 L115.2,759.8 L117.6,763.5 L119.5,767.0 L121.7,769.5 L125.7,770.6 L131.9,771.0 L138.2,771.3 L141.9,772.0 L145.6,772.6 L149.8,773.6 L154.8,777.9 L158.5,782.3 L164.8,783.8 L171.0,786.3 L175.0,789.5 L176.2,794.1 L179.7,797.5 L181.2,802.2 L45.2,802.2Z" fill="#e3e3e3"/>
<path d="M121.3,759.8 L123.8,757.9 L128.2,758.3 L131.9,760.4 L133.2,764.2 L131.9,767.9 L128.2,769.5 L124.5,768.5 L122.0,765.4Z" fill="#e3e3e3"/>
<path d="M154.8,784.8 L158.5,782.9 L164.8,784.2 L171.0,786.7 L174.7,789.8 L173.5,791.6 L168.5,789.8 L162.3,787.9 L157.3,787.3Z" fill="#e3e3e3"/>
<path d="M153.5,789.8 L158.5,789.2 L164.8,791.0 L171.0,793.5 L172.9,796.0 L168.5,796.6 L162.3,794.8 L156.0,792.9Z" fill="#e3e3e3"/>
<path d="M181.6,785.4 L184.7,784.8 L185.9,787.3 L183.4,788.5Z" fill="#e3e3e3"/>
<path d="M182.2,792.3 L185.9,790.4 L187.8,793.5 L184.7,796.0 L181.6,794.8Z" fill="#e3e3e3"/>
<path d="M199.0,785.4 L203.4,782.3 L205.9,783.5 L203.4,786.7 L200.2,788.5Z" fill="#e3e3e3"/>
<path d="M210.8,785.4 L215.8,782.9 L220.8,783.5 L223.0,787.3 L221.4,791.6 L218.3,791.0 L219.6,787.3 L216.4,786.0 L212.7,787.9Z" fill="#e3e3e3"/>
<path d="M191.5,777.9 L194.6,775.8 L199.6,775.5 L203.4,776.3 L201.5,778.6 L195.9,779.2Z" fill="#e3e3e3"/>
<path d="M206.8,737.7 L208.1,737.5 L208.6,740.0 L207.3,740.5Z" fill="#e3e3e3"/>
<path d="M176.0,796.6 L179.1,795.8 L180.3,798.2 L177.2,799.2Z" fill="#e3e3e3"/>
<path d="M65.2,633.1 L66.4,632.8 L66.9,635.9 L65.7,636.8Z" fill="#e3e3e3"/>
<path d="M355.6,800.4 L353.7,792.3 L356.8,788.5 L356.2,782.3 L358.7,778.6 L360.6,773.6 L363.1,769.9 L366.8,765.5 L369.9,763.0 L373.0,762.6 L376.8,762.3 L399.8,774.7 L437.2,774.7 L474.5,762.3 L507.4,745.8 L544.7,720.9 L557.2,708.5 L572.5,687.2 L622.3,687.2 L623.5,699.9 L627.2,702.4 L629.7,704.9 L631.6,708.6 L629.7,712.4 L626.0,714.2 L622.3,714.9 L618.5,715.5 L613.5,716.1 L616.0,718.6 L619.8,721.1 L618.5,724.8 L621.0,727.9 L624.8,729.8 L627.2,733.5 L627.9,737.3 L631.0,740.4 L639.7,744.8 L639.7,800.5Z" fill="#e3e3e3"/>
<path d="M627.9,701.2 L631.0,699.9 L634.7,701.8 L632.9,704.3 L629.1,703.7Z" fill="#e3e3e3"/>
<path d="M631.6,715.5 L634.1,716.1 L633.5,718.6 L631.2,718.0Z" fill="#e3e3e3"/>
<path d="M624.8,719.9 L627.9,720.5 L627.2,723.6 L624.1,723.0Z" fill="#e3e3e3"/>
<path d="M651.9,621.9 L653.6,621.9 L653.6,623.4 L651.9,623.4Z" fill="#e3e3e3"/>
<path d="M326.7,703.3 L333.3,699.2 L338.3,704.2 L339.7,709.2 L333.3,714.2 L330.0,712.5 L331.7,709.2 L327.5,706.7Z" fill="#e3e3e3"/>
<path d="M270.8,725.8 L273.3,723.3 L273.0,728.3 L271.3,730.0Z" fill="#e3e3e3"/>
<path d="M254.2,733.3 L258.7,732.5 L257.5,735.8 L255.0,737.0Z" fill="#e3e3e3"/>
<path d="M206.7,737.5 L208.7,737.5 L208.7,740.8 L207.0,740.8Z" fill="#e3e3e3"/>
<path d="M351.3,735.0 L354.2,733.3 L353.7,736.3 L351.7,737.0Z" fill="#e3e3e3"/>
<path d="M356.7,745.3 L360.3,745.3 L360.3,746.7 L356.7,746.7Z" fill="#e3e3e3"/>
<path d="M351.5,734.9 L353.7,733.4 L353.5,736.1 L351.9,736.9Z" fill="#e3e3e3"/>
<path d="M356.8,745.5 L360.6,745.1 L360.6,746.6 L356.8,746.7Z" fill="#e3e3e3"/>
<path d="M142.5,773.8 C143.0,774.7 144.6,777.3 145.6,779.1 C146.5,780.9 147.1,782.8 148.1,784.7 C149.0,786.5 149.8,788.7 151.2,790.3 C152.5,791.8 154.3,793.0 156.2,794.0 C158.0,795.0 160.1,795.8 162.4,796.5 C164.7,797.2 168.6,797.7 169.9,798.0" fill="none" stroke="#fff" stroke-width="1.5" stroke-linecap="round"/>
<path d="M149.9,777.8 C150.5,778.5 151.8,780.8 153.1,782.2 C154.3,783.5 155.6,785.0 157.4,785.9 C159.2,786.8 161.6,787.0 163.6,787.8 C165.7,788.6 168.0,789.8 169.9,790.9 C171.7,792.0 174.0,794.0 174.8,794.6" fill="none" stroke="#fff" stroke-width="1.5" stroke-linecap="round"/>
<path d="M156.2,787.5 C157.0,788.3 159.1,790.9 161.1,792.1 C163.2,793.4 167.4,794.7 168.6,795.3" fill="none" stroke="#fff" stroke-width="1.5" stroke-linecap="round"/>
<path d="M83.4,633.4 L82.1,636.5 L81.5,640.3 L82.4,642.8 L84.0,644.3 L84.0,644.3 L85.2,642.8 L87.1,640.5 L89.8,637.8 L89.8,637.8 L88.3,635.3 L87.1,633.1 L84.9,632.6 L83.4,633.4Z" fill="#fd8d3c" stroke="#fd8d3c" stroke-width="0.6" stroke-linejoin="round"/>
<path d="M89.8,637.8 L87.1,640.5 L85.2,642.8 L84.0,644.3 L84.0,644.3 L85.6,647.8 L87.1,652.1 L88.1,656.5 L88.3,660.2 L89.0,662.7 L89.0,662.7 L93.9,663.7 L95.2,667.7 L94.8,672.0 L95.8,675.8 L95.8,675.8 L98.9,672.9 L102.7,669.6 L105.8,665.8 L107.6,662.7 L110.1,660.0 L110.1,660.0 L111.4,656.5 L113.0,651.5 L113.2,647.8 L111.4,645.3 L108.9,644.0 L105.8,644.6 L103.9,641.5 L102.7,639.0 L99.5,638.4 L95.8,639.3 L91.5,638.4 L89.8,637.8Z" fill="#e6550d" stroke="#e6550d" stroke-width="0.6" stroke-linejoin="round"/>
<path d="M89.0,662.7 L93.9,663.7 L95.2,667.7 L94.8,672.0 L95.8,675.8 L95.8,675.8 L93.3,676.4 L90.2,677.0 L90.2,677.0 L89.6,675.8 L89.8,673.3 L89.3,669.6 L88.7,665.8 L89.0,662.7Z" fill="#a63603" stroke="#a63603" stroke-width="0.6" stroke-linejoin="round"/>
<path d="M110.1,660.0 L107.6,662.7 L105.8,665.8 L102.7,669.6 L98.9,672.9 L95.8,675.8 L95.8,675.8 L93.3,676.4 L90.2,677.0 L90.2,677.0 L89.6,678.7 L91.5,680.6 L94.6,682.5 L96.4,686.2 L97.1,690.5 L96.4,694.9 L95.8,698.6 L97.7,701.8 L100.8,704.9 L103.3,706.7 L100.8,708.0 L99.8,709.6 L99.8,709.6 L104.5,710.5 L109.5,711.7 L114.5,713.6 L119.5,713.0 L123.8,711.7 L128.2,713.0 L128.2,713.0 L127.6,709.9 L126.9,706.1 L125.7,701.1 L123.8,697.4 L122.0,692.4 L121.2,689.6 L121.2,689.6 L121.5,686.5 L123.1,681.5 L125.0,676.5 L126.8,671.6 L130.0,669.1 L131.8,665.3 L130.6,659.1 L129.3,653.5 L128.8,654.0 L125.7,654.6 L120.7,657.1 L115.7,659.6 L112.6,661.2 L110.1,660.0Z" fill="#a63603" stroke="#a63603" stroke-width="0.6" stroke-linejoin="round"/>
<path d="M142.5,646.5 L141.3,649.0 L138.8,652.7 L137.5,656.5 L135.0,657.7 L131.9,657.5 L129.7,655.9 L128.8,654.0 L129.3,653.5 L130.6,659.1 L131.8,665.3 L130.0,669.1 L126.8,671.6 L125.0,676.5 L123.1,681.5 L121.5,686.5 L121.2,689.6 L121.2,689.6 L123.1,690.2 L127.5,690.2 L131.8,689.0 L134.3,686.5 L138.7,687.8 L141.8,686.3 L146.2,687.1 L149.9,686.5 L153.6,686.8 L157.4,686.5 L159.9,684.6 L159.9,684.6 L158.0,681.5 L156.1,677.8 L153.6,674.1 L152.4,670.3 L152.4,664.1 L153.0,659.1 L156.1,656.0 L156.1,656.0 L153.6,653.5 L151.8,649.8 L148.6,646.7 L144.9,645.4 L142.4,646.0Z" fill="#fdbe85" stroke="#fdbe85" stroke-width="0.6" stroke-linejoin="round"/>
<path d="M156.1,656.0 L153.0,659.1 L152.4,664.1 L152.4,670.3 L153.6,674.1 L156.1,677.8 L158.0,681.5 L159.9,684.6 L159.9,684.6 L163.6,685.9 L167.3,687.1 L167.9,690.2 L169.2,692.7 L171.7,694.6 L169.8,696.5 L168.3,699.0 L169.2,702.7 L172.3,703.3 L176.0,703.9 L178.5,706.4 L181.3,707.7 L181.0,703.9 L181.6,700.8 L184.8,700.8 L184.8,700.8 L185.4,698.3 L185.0,694.0 L184.8,689.0 L183.5,684.0 L181.0,679.0 L177.3,674.1 L173.5,669.1 L169.8,664.7 L164.8,661.6 L159.9,658.5 L156.1,656.0Z" fill="#fdbe85" stroke="#fdbe85" stroke-width="0.6" stroke-linejoin="round"/>
<path d="M121.2,689.6 L123.1,690.2 L127.5,690.2 L131.8,689.0 L134.3,686.5 L138.7,687.8 L141.8,686.3 L146.2,687.1 L149.9,686.5 L153.6,686.8 L157.4,686.5 L159.9,684.6 L159.9,684.6 L163.6,685.9 L167.3,687.1 L167.9,690.2 L169.2,692.7 L171.7,694.6 L169.8,696.5 L168.3,699.0 L169.2,702.7 L172.3,703.3 L176.0,703.9 L178.5,706.4 L181.3,707.7 L181.0,703.9 L181.6,700.8 L184.8,700.8 L184.8,700.9 L184.1,703.7 L182.9,708.7 L182.0,713.7 L183.5,717.4 L185.0,720.5 L184.1,724.3 L184.5,728.6 L185.4,732.4 L187.2,736.1 L189.7,739.9 L192.0,743.0 L192.0,743.0 L191.0,746.7 L187.9,745.5 L184.8,743.0 L181.0,743.6 L177.3,745.5 L173.5,744.2 L170.4,741.7 L166.7,739.9 L163.0,738.6 L160.8,738.0 L160.8,738.0 L157.4,734.2 L153.6,731.1 L149.3,729.3 L144.9,728.0 L139.9,726.8 L136.8,727.1 L136.8,727.3 L134.7,726.3 L133.2,723.5 L133.8,721.1 L131.9,718.6 L129.4,716.1 L128.2,713.0 L128.2,713.0 L127.6,709.9 L126.9,706.1 L125.7,701.1 L123.8,697.4 L122.0,692.4 L121.2,689.6Z" fill="#fd8d3c" stroke="#fd8d3c" stroke-width="0.6" stroke-linejoin="round"/>
<path d="M128.2,713.0 L123.8,711.7 L119.5,713.0 L114.5,713.6 L109.5,711.7 L104.5,710.5 L99.8,709.6 L99.8,709.6 L101.4,712.3 L104.5,715.5 L107.6,718.6 L110.8,721.7 L114.5,725.4 L117.6,729.2 L119.5,732.9 L118.2,735.4 L119.5,737.9 L123.2,740.4 L126.9,742.9 L130.7,744.7 L133.5,746.7 L133.5,746.7 L132.7,743.3 L132.7,739.2 L135.2,735.0 L137.7,730.8 L136.8,727.3 L136.8,727.3 L134.7,726.3 L133.2,723.5 L133.8,721.1 L131.9,718.6 L129.4,716.1 L128.2,713.0Z" fill="#a63603" stroke="#a63603" stroke-width="0.6" stroke-linejoin="round"/>
<path d="M136.8,727.3 L137.7,730.8 L135.2,735.0 L132.7,739.2 L132.7,743.3 L133.5,746.7 L133.6,746.7 L135.7,747.8 L138.8,749.1 L141.4,748.3 L141.4,748.3 L144.3,747.9 L148.6,748.3 L153.6,748.8 L158.0,747.9 L158.0,747.9 L159.2,744.8 L160.5,741.1 L160.8,738.0 L160.8,738.0 L157.4,734.2 L153.6,731.1 L149.3,729.3 L144.9,728.0 L139.9,726.8 L136.8,727.1Z" fill="#a63603" stroke="#a63603" stroke-width="0.6" stroke-linejoin="round"/>
<path d="M158.0,747.9 L153.6,748.8 L148.6,748.3 L144.3,747.9 L141.4,748.3 L141.4,748.3 L143.0,751.1 L145.5,753.3 L149.3,755.4 L153.0,757.0 L155.5,757.9 L155.5,757.9 L156.1,754.8 L157.4,751.1 L158.0,747.9Z" fill="#e6550d" stroke="#e6550d" stroke-width="0.6" stroke-linejoin="round"/>
<path d="M160.8,738.0 L163.0,738.6 L166.7,739.9 L170.4,741.7 L173.5,744.2 L177.3,745.5 L181.0,743.6 L184.8,743.0 L187.9,745.5 L191.0,746.7 L192.0,743.0 L192.0,743.0 L194.7,744.2 L197.8,747.9 L200.9,752.3 L203.4,756.7 L205.9,761.0 L207.2,764.8 L209.0,768.5 L210.9,772.2 L211.5,775.3 L209.7,777.5 L207.2,777.2 L206.6,774.7 L204.7,774.1 L202.2,775.7 L197.2,775.3 L192.2,776.0 L190.4,777.8 L187.9,779.7 L186.0,778.5 L183.5,775.3 L179.8,772.2 L174.8,769.1 L169.8,766.0 L164.8,762.9 L159.9,759.8 L155.5,757.9 L155.5,757.9 L156.1,754.8 L157.4,751.1 L158.0,747.9 L158.0,747.9 L159.2,744.8 L160.5,741.1 L160.8,738.0Z" fill="#e6550d" stroke="#e6550d" stroke-width="0.6" stroke-linejoin="round"/>
<path d="M67.2,640.9 L70.9,639.0 L73.6,639.7 L74.6,641.5 L71.5,643.8 L69.0,643.8Z" fill="#fd8d3c" stroke="#fd8d3c" stroke-width="0.6" stroke-linejoin="round"/>
<path d="M376.8,762.3 L378.0,763.5 L379.9,765.4 L383.6,767.2 L387.4,768.2 L391.1,767.9 L394.2,766.6 L396.7,767.2 L398.6,764.8 L400.4,767.9 L402.3,767.9 L404.2,766.0 L406.7,767.9 L407.3,771.1 L409.8,773.0 L412.3,774.2 L414.8,771.4 L417.2,773.0 L421.0,774.3 L426.0,776.3 L432.2,778.5 L427.2,774.8 L423.5,772.4 L421.0,770.5 L420.7,769.2 L421.6,768.0 L423.7,764.3 L426.0,759.9 L427.2,756.8 L426.0,754.9 L426.2,752.4 L426.6,750.6 L429.1,748.7 L430.0,745.0 L429.5,741.2 L430.3,738.7 L432.2,739.4 L433.2,742.5 L433.7,746.8 L434.4,748.7 L435.3,745.0 L437.2,741.2 L439.7,738.1 L443.4,736.2 L448.4,735.0 L455.9,733.6 L463.3,732.1 L470.8,730.5 L478.3,728.9 L483.3,726.8 L484.9,725.9 L488.7,721.5 L493.7,716.5 L498.6,711.6 L503.6,706.6 L507.4,702.2 L510.5,698.5 L512.1,696.0 L513.0,692.2 L514.2,689.7 L516.7,689.1 L519.2,690.4 L521.7,693.5 L521.7,693.5 L524.2,696.0 L527.3,699.1 L531.1,702.2 L534.2,704.1 L536.7,702.8 L539.8,699.7 L541.0,696.0 L539.8,692.2 L537.9,687.9 L538.5,684.8 L538.5,684.8 L542.3,683.5 L545.4,682.9 L545.4,682.9 L546.6,687.2 L547.9,691.0 L548.5,693.7 L551.6,694.7 L556.0,695.7 L556.0,695.7 L554.5,690.4 L552.9,685.4 L551.0,681.6 L550.4,680.8 L550.4,680.8 L552.2,679.8 L554.7,681.0 L557.2,679.8 L560.3,678.5 L561.6,677.9 L561.6,677.9 L563.7,679.8 L565.1,682.9 L563.2,686.6 L562.2,689.7 L564.7,693.5 L565.7,697.8 L565.9,700.9 L565.9,701.0 L563.4,706.6 L564.0,709.7 L563.4,713.4 L565.3,716.5 L564.6,720.3 L562.2,722.8 L562.8,725.9 L560.9,729.6 L557.2,731.5 L552.8,733.4 L549.7,735.9 L548.5,739.6 L549.7,742.7 L551.6,745.2 L547.2,747.7 L542.2,750.8 L538.5,753.3 L539.1,755.8 L541.0,758.3 L540.4,761.4 L537.2,763.9 L536.0,767.0 L534.8,770.7 L532.3,773.8 L528.5,773.2 L523.5,772.6 L517.3,773.8 L511.1,776.3 L506.1,778.8 L503.0,780.7 L499.9,779.4 L494.9,777.6 L488.7,775.7 L483.7,774.5 L482.5,772.0 L476.2,771.3 L470.0,771.3 L464.6,772.9 L460.8,774.7 L458.3,777.8 L454.6,781.6 L450.9,783.4 L447.1,785.9 L442.2,786.6 L437.2,786.2 L432.2,785.9 L427.2,785.3 L422.2,785.9 L417.2,787.2 L412.3,789.0 L407.3,790.3 L403.5,789.9 L399.8,787.8 L396.1,784.7 L392.3,780.9 L388.6,777.8 L384.9,775.3 L381.1,772.2 L378.6,767.2Z" fill="#fdbe85" stroke="#fdbe85" stroke-width="0.6" stroke-linejoin="round"/>
<path d="M556.0,669.9 L558.5,666.7 L562.2,664.9 L567.2,665.5 L570.6,664.1 L572.5,661.0 L574.9,656.7 L577.4,651.1 L581.2,646.7 L586.2,642.3 L591.1,638.0 L595.5,634.2 L596.7,629.3 L598.0,624.9 L599.9,623.7 L601.7,625.5 L601.1,630.5 L600.5,634.9 L603.0,633.6 L606.1,630.5 L607.9,626.8 L609.8,623.7 L612.3,623.0 L614.2,626.2 L614.8,630.5 L616.7,633.0 L619.8,633.6 L622.3,636.1 L627.2,637.4 L629.7,639.9 L629.1,643.0 L626.6,644.2 L626.0,647.3 L627.9,649.8 L626.0,652.3 L629.7,652.9 L633.5,651.1 L637.2,649.2 L639.7,650.4 L640.9,654.2 L638.5,656.0 L636.6,657.9 L640.9,658.5 L644.7,656.0 L649.7,656.0 L654.6,657.9 L658.4,661.0 L662.1,662.9 L665.9,664.8 L669.6,665.4 L673.9,664.8 L677.1,666.6 L677.7,670.4 L674.6,673.5 L669.6,675.3 L664.6,677.2 L659.6,679.1 L654.6,678.5 L650.9,677.2 L647.2,678.5 L643.4,681.6 L645.9,684.7 L649.7,687.2 L653.4,689.0 L657.1,691.5 L655.9,694.0 L652.2,695.9 L647.2,697.1 L642.2,697.8 L637.2,698.4 L632.9,695.9 L629.7,693.4 L627.2,694.6 L626.0,698.4 L623.5,700.2 L619.8,698.4 L616.0,696.5 L609.8,695.9 L603.6,695.3 L597.4,695.6 L591.1,695.9 L584.9,695.6 L578.7,695.9 L572.5,697.8 L568.7,699.6 L566.0,701.0 L565.9,700.9 L565.7,697.8 L564.7,693.5 L562.2,689.7 L563.2,686.6 L565.1,682.9 L563.7,679.8 L561.6,677.9 L563.4,676.0 L562.2,674.8 L558.5,672.9Z" fill="#fdbe85" stroke="#fdbe85" stroke-width="0.6" stroke-linejoin="round"/>
<path d="M521.7,693.5 L526.1,689.7 L531.1,685.4 L536.0,681.6 L541.0,678.5 L545.4,676.7 L548.2,676.7 L546.0,679.8 L545.4,682.9 L542.3,683.5 L538.5,684.8 L537.9,687.9 L539.8,692.2 L541.0,696.0 L539.8,699.7 L536.7,702.8 L534.2,704.1 L531.1,702.2 L527.3,699.1 L524.2,696.0Z" fill="#e3e3e3"/>
<path d="M547.2,681.6 L550.4,680.8 L552.9,685.4 L554.5,690.4 L556.0,695.7 L551.6,694.7 L548.5,693.7 L547.9,689.7 L547.0,685.4Z" fill="#e3e3e3"/>
<path d="M608.6,617.4 L610.4,614.9 L614.2,614.3 L615.8,615.6 L614.2,618.1 L610.4,619.3Z" fill="#fdbe85"/>
<path d="M618.5,631.8 L621.0,630.5 L622.3,632.1 L619.8,633.1Z" fill="#fdbe85"/>
<path d="M650.9,686.2 L654.0,686.4 L654.9,687.9 L651.9,687.7Z" fill="#fdbe85"/>
<ellipse cx="551.4" cy="669.2" rx="1.1" ry="1.1" fill="#e6550d"/>
<ellipse cx="85.2" cy="668.9" rx="2.1" ry="2.9" fill="#a63603"/>
<path d="M89.8,637.8 L87.1,640.5 L85.2,642.8 L84.0,644.3 M89.0,662.7 L93.9,663.7 L95.2,667.7 L94.8,672.0 L95.8,675.8 M110.1,660.0 L107.6,662.7 L105.8,665.8 L102.7,669.6 L98.9,672.9 L95.8,675.8 M95.8,675.8 L93.3,676.4 L90.2,677.0 M129.3,653.5 L130.6,659.1 L131.8,665.3 L130.0,669.1 L126.8,671.6 L125.0,676.5 L123.1,681.5 L121.5,686.5 L121.2,689.6 M121.2,689.6 L123.1,690.2 L127.5,690.2 L131.8,689.0 L134.3,686.5 L138.7,687.8 L141.8,686.3 L146.2,687.1 L149.9,686.5 L153.6,686.8 L157.4,686.5 L159.9,684.6 M156.1,656.0 L153.0,659.1 L152.4,664.1 L152.4,670.3 L153.6,674.1 L156.1,677.8 L158.0,681.5 L159.9,684.6 M159.9,684.6 L163.6,685.9 L167.3,687.1 L167.9,690.2 L169.2,692.7 L171.7,694.6 L169.8,696.5 L168.3,699.0 L169.2,702.7 L172.3,703.3 L176.0,703.9 L178.5,706.4 L181.3,707.7 L181.0,703.9 L181.6,700.8 L184.8,700.8 M121.2,689.6 L122.0,692.4 L123.8,697.4 L125.7,701.1 L126.9,706.1 L127.6,709.9 L128.2,713.0 M128.2,713.0 L123.8,711.7 L119.5,713.0 L114.5,713.6 L109.5,711.7 L104.5,710.5 L99.8,709.6 M128.2,713.0 L129.4,716.1 L131.9,718.6 L133.8,721.1 L133.2,723.5 L134.7,726.3 L136.8,727.3 M136.8,727.3 L137.7,730.8 L135.2,735.0 L132.7,739.2 L132.7,743.3 L133.5,746.7 M136.8,727.1 L139.9,726.8 L144.9,728.0 L149.3,729.3 L153.6,731.1 L157.4,734.2 L160.8,738.0 M160.8,738.0 L163.0,738.6 L166.7,739.9 L170.4,741.7 L173.5,744.2 L177.3,745.5 L181.0,743.6 L184.8,743.0 L187.9,745.5 L191.0,746.7 L192.0,743.0 M160.8,738.0 L160.5,741.1 L159.2,744.8 L158.0,747.9 M158.0,747.9 L157.4,751.1 L156.1,754.8 L155.5,757.9 M158.0,747.9 L153.6,748.8 L148.6,748.3 L144.3,747.9 L141.4,748.3 M561.6,677.9 L563.7,679.8 L565.1,682.9 L563.2,686.6 L562.2,689.7 L564.7,693.5 L565.7,697.8 L565.9,700.9" fill="none" stroke="#222" stroke-opacity="0.85" stroke-width="0.75" stroke-dasharray="1.0 1.0"/>
<circle cx="130.9" cy="731.0" r="1.45" fill="#a63603" stroke="#2a2a2a" stroke-width="0.9"/>
</g>
<path d="M247.0,722.0 C248.3,720.7 251.7,716.9 255.0,714.2 C258.3,711.5 262.5,708.4 266.7,705.8 C270.8,703.3 275.6,700.9 280.0,698.8 C284.4,696.8 288.9,694.9 293.3,693.3 C297.8,691.8 302.2,690.4 306.7,689.3 C311.1,688.3 315.6,687.6 320.0,687.2 C324.4,686.8 329.4,686.7 333.3,687.0 C337.2,687.3 340.0,688.0 343.3,689.2 C346.7,690.4 350.3,692.1 353.3,694.2 C356.4,696.2 359.2,698.8 361.7,701.7 C364.2,704.6 366.4,708.1 368.3,711.7 C370.3,715.3 371.9,719.2 373.3,723.3 C374.7,727.5 375.8,732.2 376.7,736.7 C377.5,741.1 378.2,746.0 378.3,750.0 C378.4,754.0 377.5,758.9 377.3,760.7" fill="none" stroke="#222" stroke-width="1.1"/>
<rect x="125.6" y="726.7" width="10.4" height="9.0" fill="none" stroke="#f6d800" stroke-width="1.8"/>
<rect x="141.8" y="749.1" width="10.2" height="9.0" fill="none" stroke="#f6d800" stroke-width="1.8"/>
<rect x="395.4" y="764.3" width="11.3" height="9.6" fill="none" stroke="#f6d800" stroke-width="1.8"/>
<path d="M58.9,582.8 H681.6" stroke="#333" stroke-width="1.6" stroke-dasharray="12.7 4.73" fill="none"/>
<path d="M45.4,582.8 H54.9" stroke="#333" stroke-width="1.6" fill="none"/>
<path d="M47.4,799.9 H687.0" stroke="#333" stroke-width="1.6" stroke-dasharray="12.7 4.73" fill="none"/>
<path d="M46.2,609.6 V796.3" stroke="#333" stroke-width="1.6" stroke-dasharray="12.7 4.73" fill="none"/>
<path d="M46.2,582.0 V604.2" stroke="#333" stroke-width="1.6" fill="none"/>
<path d="M686.9,582.2 V799.9" stroke="#333" stroke-width="1.6" stroke-dasharray="12.7 4.73" fill="none"/>
</g>
<text x="60.08" y="113.60" font-size="14.60" fill="#444" font-weight="normal" font-style="normal" letter-spacing="0.80" textLength="54.74" lengthAdjust="spacingAndGlyphs" stroke="#444" stroke-width="0.30" stroke-linejoin="round">THAÏLANDE</text>
<text x="59.34" y="284.20" font-size="14.60" fill="#444" font-weight="normal" font-style="normal" letter-spacing="0.80" textLength="51.40" lengthAdjust="spacingAndGlyphs" stroke="#444" stroke-width="0.30" stroke-linejoin="round">INDONÉSIE</text>
<text x="545.34" y="284.40" font-size="14.60" fill="#444" font-weight="normal" font-style="normal" letter-spacing="0.80" textLength="51.82" lengthAdjust="spacingAndGlyphs" stroke="#444" stroke-width="0.30" stroke-linejoin="round">INDONÉSIE</text>
<text x="64.34" y="233.00" font-size="13.20" fill="#111" font-weight="normal" font-style="normal" letter-spacing="0.60" textLength="58.66" lengthAdjust="spacingAndGlyphs" stroke="#111" stroke-width="0.45" stroke-linejoin="round">Kuala Lumpur</text>
<text x="132.34" y="270.80" font-size="13.20" fill="#111" font-weight="normal" font-style="normal" letter-spacing="0.60" textLength="34.32" lengthAdjust="spacingAndGlyphs" stroke="#111" stroke-width="0.45" stroke-linejoin="round">Malacca</text>
<text x="360.84" y="263.00" font-size="13.20" fill="#111" font-weight="normal" font-style="normal" letter-spacing="0.60" textLength="34.90" lengthAdjust="spacingAndGlyphs" stroke="#111" stroke-width="0.45" stroke-linejoin="round">Kuching</text>
<text x="232.00" y="138.75" font-size="16.60" fill="#6f97cc" font-weight="normal" font-style="italic" letter-spacing="5.00" textLength="216.10" lengthAdjust="spacingAndGlyphs">Mer de Chine Méridionale</text>
<text x="60.08" y="366.50" font-size="14.60" fill="#444" font-weight="normal" font-style="normal" letter-spacing="0.80" textLength="54.74" lengthAdjust="spacingAndGlyphs" stroke="#444" stroke-width="0.30" stroke-linejoin="round">THAÏLANDE</text>
<text x="59.34" y="535.00" font-size="14.60" fill="#444" font-weight="normal" font-style="normal" letter-spacing="0.80" textLength="51.40" lengthAdjust="spacingAndGlyphs" stroke="#444" stroke-width="0.30" stroke-linejoin="round">INDONÉSIE</text>
<text x="541.08" y="535.20" font-size="14.60" fill="#444" font-weight="normal" font-style="normal" letter-spacing="0.80" textLength="51.96" lengthAdjust="spacingAndGlyphs" stroke="#444" stroke-width="0.30" stroke-linejoin="round">INDONÉSIE</text>
<text x="59.34" y="484.70" font-size="13.20" fill="#111" font-weight="normal" font-style="normal" letter-spacing="0.60" textLength="59.16" lengthAdjust="spacingAndGlyphs" stroke="#111" stroke-width="0.45" stroke-linejoin="round">Kuala Lumpur</text>
<text x="126.00" y="523.80" font-size="13.20" fill="#111" font-weight="normal" font-style="normal" letter-spacing="0.60" textLength="33.84" lengthAdjust="spacingAndGlyphs" stroke="#111" stroke-width="0.45" stroke-linejoin="round">Malacca</text>
<text x="359.08" y="508.40" font-size="13.20" fill="#111" font-weight="normal" font-style="normal" letter-spacing="0.60" textLength="34.58" lengthAdjust="spacingAndGlyphs" stroke="#111" stroke-width="0.45" stroke-linejoin="round">Kuching</text>
<text x="232.00" y="388.00" font-size="16.60" fill="#6f97cc" font-weight="normal" font-style="italic" letter-spacing="5.00" textLength="216.10" lengthAdjust="spacingAndGlyphs">Mer de Chine Méridionale</text>
<text x="60.08" y="619.00" font-size="14.60" fill="#444" font-weight="normal" font-style="normal" letter-spacing="0.80" textLength="54.74" lengthAdjust="spacingAndGlyphs" stroke="#444" stroke-width="0.30" stroke-linejoin="round">THAÏLANDE</text>
<text x="64.34" y="781.50" font-size="14.60" fill="#444" font-weight="normal" font-style="normal" letter-spacing="0.80" textLength="51.40" lengthAdjust="spacingAndGlyphs" stroke="#444" stroke-width="0.30" stroke-linejoin="round">INDONÉSIE</text>
<text x="541.08" y="785.40" font-size="14.60" fill="#444" font-weight="normal" font-style="normal" letter-spacing="0.80" textLength="51.96" lengthAdjust="spacingAndGlyphs" stroke="#444" stroke-width="0.30" stroke-linejoin="round">INDONÉSIE</text>
<text x="59.34" y="734.10" font-size="13.20" fill="#111" font-weight="normal" font-style="normal" letter-spacing="0.60" textLength="58.66" lengthAdjust="spacingAndGlyphs" stroke="#111" stroke-width="0.45" stroke-linejoin="round">Kuala Lumpur</text>
<text x="129.34" y="768.10" font-size="13.20" fill="#111" font-weight="normal" font-style="normal" letter-spacing="0.60" textLength="33.58" lengthAdjust="spacingAndGlyphs" stroke="#111" stroke-width="0.45" stroke-linejoin="round">Malacca</text>
<text x="366.26" y="758.40" font-size="13.20" fill="#111" font-weight="normal" font-style="normal" letter-spacing="0.60" textLength="35.64" lengthAdjust="spacingAndGlyphs" stroke="#111" stroke-width="0.45" stroke-linejoin="round">Kuching</text>
<text x="238.00" y="653.75" font-size="16.60" fill="#6f97cc" font-weight="normal" font-style="italic" letter-spacing="5.00" textLength="216.10" lengthAdjust="spacingAndGlyphs">Mer de Chine Méridionale</text>
<rect x="697.5" y="132.5" width="62.0" height="23.0" fill="#bae4b3"/>
<rect x="697.5" y="179.5" width="62.0" height="23.0" fill="#74c476"/>
<rect x="882.0" y="132.5" width="61.8" height="23.0" fill="#31a354"/>
<rect x="882.0" y="178.0" width="61.8" height="24.5" fill="#006d2c"/>
<rect x="697.5" y="384.5" width="62.0" height="22.5" fill="#cbc9e2"/>
<rect x="697.5" y="431.3" width="62.0" height="22.7" fill="#9e9ac8"/>
<rect x="882.0" y="386.8" width="61.8" height="22.5" fill="#756bb1"/>
<rect x="882.0" y="432.5" width="61.8" height="24.3" fill="#54278f"/>
<rect x="697.5" y="635.0" width="62.0" height="22.5" fill="#fdbe85"/>
<rect x="697.5" y="680.0" width="62.0" height="22.5" fill="#fd8d3c"/>
<rect x="882.0" y="635.0" width="61.8" height="22.5" fill="#e6550d"/>
<rect x="882.0" y="681.3" width="61.8" height="23.7" fill="#a63603"/>
<text x="693.10" y="117.20" font-size="21.30" fill="#111" font-weight="normal" font-style="normal" letter-spacing="0.90" textLength="368.80" lengthAdjust="spacingAndGlyphs" stroke="#111" stroke-width="0.35" stroke-linejoin="round">Part de la population d’origine bumiputra en Malaisie</text>
<text x="693.10" y="367.20" font-size="21.30" fill="#111" font-weight="normal" font-style="normal" letter-spacing="0.90" textLength="351.30" lengthAdjust="spacingAndGlyphs" stroke="#111" stroke-width="0.35" stroke-linejoin="round">Part de la population d’origine chinoise en Malaisie</text>
<text x="693.60" y="617.20" font-size="21.30" fill="#111" font-weight="normal" font-style="normal" letter-spacing="0.90" textLength="356.30" lengthAdjust="spacingAndGlyphs" stroke="#111" stroke-width="0.35" stroke-linejoin="round">Part de la population d’origine indienne en Malaisie</text>
<text x="765.30" y="151.30" font-size="16.80" fill="#111" font-weight="normal" font-style="normal" letter-spacing="0.90" textLength="112.60" lengthAdjust="spacingAndGlyphs" stroke="#111" stroke-width="0.30" stroke-linejoin="round">De 43.6% à 57.1%</text>
<text x="763.10" y="196.30" font-size="16.80" fill="#111" font-weight="normal" font-style="normal" letter-spacing="0.90" textLength="112.80" lengthAdjust="spacingAndGlyphs" stroke="#111" stroke-width="0.30" stroke-linejoin="round">De 58.9% à 74.8%</text>
<text x="947.80" y="152.50" font-size="16.80" fill="#111" font-weight="normal" font-style="normal" letter-spacing="0.90" textLength="111.60" lengthAdjust="spacingAndGlyphs" stroke="#111" stroke-width="0.30" stroke-linejoin="round">De 77.9% à 84.8%</text>
<text x="947.80" y="196.30" font-size="16.80" fill="#111" font-weight="normal" font-style="normal" letter-spacing="0.90" textLength="100.10" lengthAdjust="spacingAndGlyphs" stroke="#111" stroke-width="0.30" stroke-linejoin="round">De 88.8% à 98%</text>
<text x="763.50" y="401.50" font-size="16.80" fill="#111" font-weight="normal" font-style="normal" letter-spacing="0.90" textLength="84.90" lengthAdjust="spacingAndGlyphs" stroke="#111" stroke-width="0.30" stroke-linejoin="round">De 0.7% à 8%</text>
<text x="763.10" y="450.00" font-size="16.80" fill="#111" font-weight="normal" font-style="normal" letter-spacing="0.90" textLength="112.80" lengthAdjust="spacingAndGlyphs" stroke="#111" stroke-width="0.30" stroke-linejoin="round">De 12.8% à 16.2%</text>
<text x="947.80" y="402.50" font-size="16.80" fill="#111" font-weight="normal" font-style="normal" letter-spacing="0.90" textLength="111.60" lengthAdjust="spacingAndGlyphs" stroke="#111" stroke-width="0.30" stroke-linejoin="round">De 23.2% à 28.6%</text>
<text x="947.80" y="450.00" font-size="16.80" fill="#111" font-weight="normal" font-style="normal" letter-spacing="0.90" textLength="111.60" lengthAdjust="spacingAndGlyphs" stroke="#111" stroke-width="0.30" stroke-linejoin="round">De 30.4% à 45.6%</text>
<text x="763.50" y="653.00" font-size="16.80" fill="#111" font-weight="normal" font-style="normal" letter-spacing="0.90" textLength="95.90" lengthAdjust="spacingAndGlyphs" stroke="#111" stroke-width="0.30" stroke-linejoin="round">De 0.2% à 0.3%</text>
<text x="761.60" y="697.50" font-size="16.80" fill="#111" font-weight="normal" font-style="normal" letter-spacing="0.90" textLength="97.30" lengthAdjust="spacingAndGlyphs" stroke="#111" stroke-width="0.30" stroke-linejoin="round">De 0.9% à 4.4%</text>
<text x="952.00" y="653.00" font-size="16.80" fill="#111" font-weight="normal" font-style="normal" letter-spacing="0.90" textLength="103.40" lengthAdjust="spacingAndGlyphs" stroke="#111" stroke-width="0.30" stroke-linejoin="round">De 6.2% à 10.3%</text>
<text x="947.80" y="698.00" font-size="16.80" fill="#111" font-weight="normal" font-style="normal" letter-spacing="0.90" textLength="111.60" lengthAdjust="spacingAndGlyphs" stroke="#111" stroke-width="0.30" stroke-linejoin="round">De 10.4% à 15.2%</text>
<rect x="611.8" y="240.5" width="198.3" height="72.8" fill="#9ac7df"/>
<rect x="611.8" y="492.2" width="198.3" height="73.1" fill="#9ac7df"/>
<rect x="611.8" y="742.0" width="198.3" height="73.5" fill="#9ac7df"/>
<text x="669.10" y="268.80" font-size="19.90" fill="#111" font-weight="normal" font-style="normal" letter-spacing="2.20" textLength="92.20" lengthAdjust="spacingAndGlyphs" stroke="#111" stroke-width="0.30" stroke-linejoin="round">BUMIPUTRAS</text>
<text x="635.00" y="293.80" font-size="19.90" fill="#111" font-weight="normal" font-style="normal" letter-spacing="2.20" textLength="165.10" lengthAdjust="spacingAndGlyphs" stroke="#111" stroke-width="0.30" stroke-linejoin="round">(MALAIS ET INDIGÈNES)</text>
<text x="641.30" y="525.50" font-size="19.90" fill="#111" font-weight="normal" font-style="normal" letter-spacing="2.20" textLength="134.60" lengthAdjust="spacingAndGlyphs" stroke="#111" stroke-width="0.30" stroke-linejoin="round">CITOYENS D’ETHNIE</text>
<text x="675.80" y="549.30" font-size="19.90" fill="#111" font-weight="normal" font-style="normal" letter-spacing="2.20" textLength="65.60" lengthAdjust="spacingAndGlyphs" stroke="#111" stroke-width="0.30" stroke-linejoin="round">CHINOISE</text>
<text x="641.30" y="775.50" font-size="19.90" fill="#111" font-weight="normal" font-style="normal" letter-spacing="2.20" textLength="134.60" lengthAdjust="spacingAndGlyphs" stroke="#111" stroke-width="0.30" stroke-linejoin="round">CITOYENS D’ETHNIE</text>
<text x="675.30" y="799.00" font-size="19.90" fill="#111" font-weight="normal" font-style="normal" letter-spacing="2.20" textLength="67.30" lengthAdjust="spacingAndGlyphs" stroke="#111" stroke-width="0.30" stroke-linejoin="round">INDIENNE</text>
<text x="880.98" y="770.10" font-size="12.00" fill="#3a3a3a" font-weight="normal" font-style="normal" letter-spacing="0.50" textLength="164.47" lengthAdjust="spacingAndGlyphs" stroke="#3a3a3a" stroke-width="0.25" stroke-linejoin="round">Réalisation : Myriam Sonni (Asialyst.com)</text>
<text x="882.25" y="787.80" font-size="12.00" fill="#3a3a3a" font-weight="normal" font-style="normal" letter-spacing="0.50" textLength="158.25" lengthAdjust="spacingAndGlyphs" stroke="#3a3a3a" stroke-width="0.25" stroke-linejoin="round">Source : Population and Housing Census</text>
<text x="884.03" y="803.20" font-size="12.00" fill="#3a3a3a" font-weight="normal" font-style="normal" letter-spacing="0.50" textLength="67.91" lengthAdjust="spacingAndGlyphs" stroke="#3a3a3a" stroke-width="0.25" stroke-linejoin="round">of Malaysia 2010</text>
</svg></body></html>
